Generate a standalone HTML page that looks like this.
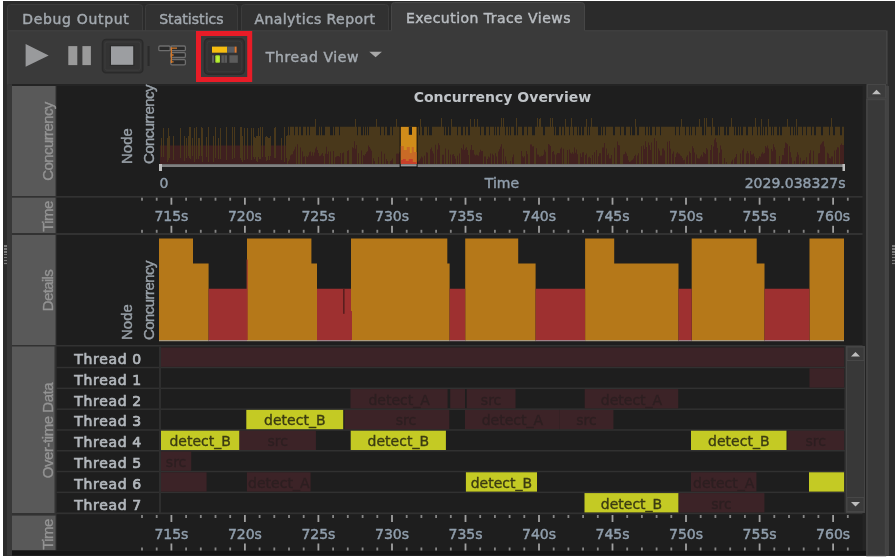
<!DOCTYPE html>
<html><head><meta charset="utf-8"><style>
*{box-sizing:border-box;margin:0;padding:0}
html,body{width:895px;height:558px;overflow:hidden;background:#fff;font-family:'DejaVu Sans', 'Liberation Sans', sans-serif}
.a{position:absolute}
svg{position:absolute;left:0;top:0}
svg{font-family:'DejaVu Sans', 'Liberation Sans', sans-serif;font-size:14px}
.vl{font-family:'Liberation Sans', 'DejaVu Sans', sans-serif;font-size:15px;fill:#939393;stroke:#939393;stroke-width:0.35px}
</style></head><body>
<div class="a" style="left:3px;top:1px;width:892px;height:554.6px;background:#2b2b2b"></div>
<svg width="895" height="558">
  <defs><clipPath id="rowclip"><rect x="161" y="340" width="683.5" height="180"/></clipPath></defs>
  <!-- tabs -->
  <g fill="#313131" stroke="#3c3c3c" stroke-width="1">
    <path d="M7.5 31V7.5Q7.5 4.5 10.5 4.5H139.5Q142.5 4.5 142.5 7.5V31"/>
    <path d="M145.5 31V7.5Q145.5 4.5 148.5 4.5H234.5Q237.5 4.5 237.5 7.5V31"/>
    <path d="M241.5 31V7.5Q241.5 4.5 244.5 4.5H385.5Q388.5 4.5 388.5 7.5V31"/>
  </g>
  <path d="M391.5 31V5.5Q391.5 2.5 394.5 2.5H581.5Q584.5 2.5 584.5 5.5V31" fill="#3a3a3a" stroke="#464646" stroke-width="1"/>
  <g fill="#a2a8ae" stroke="#a2a8ae" stroke-width="0.45">
    <text x="22.2" y="23.6" style="letter-spacing:0.68px">Debug Output</text>
    <text x="159.2" y="23.6" style="letter-spacing:0.05px">Statistics</text>
    <text x="254.6" y="23.6" style="letter-spacing:0.4px">Analytics Report</text>
    <text x="406" y="22.8" fill="#b8bcc0" stroke="#b8bcc0" style="letter-spacing:0.46px">Execution Trace Views</text>
  </g>
  <rect x="7" y="30.5" width="881" height="54" fill="#3a3a3a"/>
  <rect x="392" y="29" width="192" height="3" fill="#3a3a3a"/>
  <path d="M585 30.8H886.5V84M391.5 30.8H7.8V555" stroke="#444" stroke-width="1" fill="none"/>

  <!-- toolbar icons -->
  <polygon points="25.6,44 48.7,55.4 25.6,66.7" fill="#999a9c"/>
  <rect x="68.3" y="46.1" width="9" height="19" fill="#9a9a9a"/>
  <rect x="82.4" y="46.1" width="8.5" height="19" fill="#9a9a9a"/>
  <rect x="102.5" y="39.5" width="40.3" height="33.2" rx="3.5" fill="#333" stroke="#2a2a2a" stroke-width="1.5"/>
  <rect x="105" y="42" width="35.3" height="28.2" rx="2" fill="none" stroke="#3d3d3d" stroke-width="1"/>
  <rect x="110.4" y="45.6" width="23.4" height="19.8" fill="none" stroke="#2c2c2c" stroke-width="1.2"/><rect x="111" y="46.3" width="22.2" height="18.5" fill="#9c9ea1"/>
  <rect x="147.6" y="46" width="2" height="20" fill="#2a2a2a"/>
  <g fill="#2b2b2b" stroke="#6e6e6e" stroke-width="1.3">
    <rect x="158.8" y="46" width="11.4" height="4.6" rx="1.2"/>
    <rect x="170.8" y="46" width="14.6" height="4.6" rx="1.2"/>
    <rect x="170.8" y="52.7" width="14.6" height="4.8" rx="1.2"/>
    <rect x="170.8" y="59.6" width="14.6" height="5.2" rx="1.2"/>
  </g>
  <path d="M171.4 47.3V63M171.4 48.2H177M171.4 55h2.2M171.4 61.8h2.2" stroke="#d2782a" stroke-width="1.3" fill="none"/>
  <rect x="198.5" y="33.5" width="51.2" height="46" fill="none" stroke="#e81c27" stroke-width="5"/>
  <rect x="204.5" y="38.8" width="39.8" height="35.4" rx="4" fill="#323232" stroke="#2a2a2a" stroke-width="1.5"/>
  <rect x="207" y="41.2" width="34.8" height="30.6" rx="3" fill="none" stroke="#3b3b3b" stroke-width="1"/>
  <rect x="212" y="46.6" width="15.2" height="6.1" fill="#f6bd10"/>
  <rect x="227.2" y="46.6" width="7.4" height="6.1" fill="#585c62"/>
  <rect x="234.6" y="46.6" width="2" height="6.1" fill="#e07a30"/>
  <rect x="212" y="55.3" width="2" height="7.5" fill="#5e5e5e"/>
  <rect x="215.3" y="55.3" width="4.7" height="7.5" rx="1" fill="#a6e02a"/>
  <rect x="216.5" y="56.5" width="2.3" height="5" fill="#c0f43a"/>
  <rect x="221.4" y="55.3" width="5.6" height="7.5" fill="#5a5a5a"/>
  <rect x="223.9" y="55.3" width="0.8" height="7.5" fill="#444"/>
  <rect x="229.4" y="55.3" width="8.4" height="7.5" fill="#5c5c5c"/>
  <text x="265.8" y="61.8" fill="#a4aab0" stroke="#a4aab0" stroke-width="0.45" style="letter-spacing:0.61px">Thread View</text>
  <polygon points="369.3,51.8 381.9,51.8 375.6,57.3" fill="#a8a8a8"/>

  <!-- content background -->
  <rect x="7" y="84.5" width="881" height="471.1" fill="#383838"/>
  <rect x="12" y="84.5" width="854" height="466" fill="#323232"/>
  <rect x="12" y="84" width="854" height="2" fill="#242424"/>
  <rect x="3" y="86" width="4" height="469.6" fill="#2b2b2b"/>

  <!-- label cells -->
  <g fill="#595959">
    <rect x="12" y="86" width="43.5" height="110"/>
    <rect x="12" y="197.7" width="43.5" height="35.3"/>
    <rect x="12" y="235" width="43.5" height="110"/>
    <rect x="12" y="346.5" width="42.5" height="166.5"/>
    <rect x="12" y="515.6" width="43.5" height="34.8"/>
  </g>
  <g fill="#1e1e1e">
    <rect x="56.5" y="86" width="808" height="110"/>
    <rect x="56.5" y="197.7" width="808" height="35.3"/>
    <rect x="56.5" y="235" width="808" height="110"/>
    <rect x="56.5" y="346.5" width="788" height="166.5"/>
    <rect x="56.5" y="514.2" width="808.5" height="36.2"/>
    <rect x="12" y="550.4" width="854" height="5.2" fill="#141414"/>
  </g>
  <g class="vl" text-anchor="middle">
    <text transform="translate(52.6,141.5) rotate(-90)" style="letter-spacing:-0.6px">Concurrency</text>
    <text transform="translate(52.6,216.5) rotate(-90)" style="letter-spacing:-0.55px">Time</text>
    <text transform="translate(52.6,290.5) rotate(-90)" style="letter-spacing:-0.65px">Details</text>
    <text transform="translate(52.6,430.5) rotate(-90)" style="letter-spacing:-0.45px">Over-time Data</text>
    <text transform="translate(52.6,534.5) rotate(-90)" style="letter-spacing:-0.55px">Time</text>
  </g>
  <g fill="#98a0a8" stroke="#98a0a8" stroke-width="0.4" style="font-family:'Liberation Sans', 'DejaVu Sans', sans-serif;font-size:15px">
    <text transform="translate(132,164) rotate(-90)">Node</text>
    <text transform="translate(154.3,164) rotate(-90)" style="letter-spacing:-0.55px">Concurrency</text>
    <text transform="translate(132,340) rotate(-90)">Node</text>
    <text transform="translate(154.3,340) rotate(-90)" style="letter-spacing:-0.55px">Concurrency</text>
  </g>
  <text x="502.4" y="101.5" text-anchor="middle" fill="#c0c4c8" style="font-weight:bold">Concurrency Overview</text>
  <path d="M160 145.5h1V164h-1zM161 145.5h1V164h-1zM162 145.5h1V164h-1zM163 145.5h1V164h-1zM164 145.5h1V164h-1zM165 145.5h1V164h-1zM166 145.5h1V164h-1zM167 145.5h1V164h-1zM168 145.5h1V164h-1zM169 145.5h1V164h-1zM170 145.5h1V164h-1zM171 145.5h1V164h-1zM172 145.5h1V164h-1zM173 145.5h1V164h-1zM174 145.5h1V164h-1zM175 145.5h1V164h-1zM176 145.5h1V164h-1zM177 145.5h1V164h-1zM178 145.5h1V164h-1zM179 145.5h1V164h-1zM180 145.5h1V164h-1zM181 145.5h1V164h-1zM182 145.5h1V164h-1zM183 145.5h1V164h-1zM184 145.5h1V164h-1zM185 145.5h1V164h-1zM186 145.5h1V164h-1zM187 145.5h1V164h-1zM188 145.5h1V164h-1zM189 145.5h1V164h-1zM190 145.5h1V164h-1zM191 145.5h1V164h-1zM192 145.5h1V164h-1zM193 145.5h1V164h-1zM194 145.5h1V164h-1zM195 145.5h1V164h-1zM196 145.5h1V164h-1zM197 145.5h1V164h-1zM198 145.5h1V164h-1zM199 145.5h1V164h-1zM200 145.5h1V164h-1zM201 145.5h1V164h-1zM202 145.5h1V164h-1zM203 145.5h1V164h-1zM204 145.5h1V164h-1zM205 145.5h1V164h-1zM206 145.5h1V164h-1zM207 145.5h1V164h-1zM208 145.5h1V164h-1zM209 145.5h1V164h-1zM210 145.5h1V164h-1zM211 145.5h1V164h-1zM212 145.5h1V164h-1zM213 145.5h1V164h-1zM214 145.5h1V164h-1zM215 145.5h1V164h-1zM216 145.5h1V164h-1zM217 145.5h1V164h-1zM218 145.5h1V164h-1zM219 145.5h1V164h-1zM220 145.5h1V164h-1zM221 145.5h1V164h-1zM222 145.5h1V164h-1zM223 145.5h1V164h-1zM224 145.5h1V164h-1zM225 145.5h1V164h-1zM226 145.5h1V164h-1zM227 145.5h1V164h-1zM228 145.5h1V164h-1zM229 145.5h1V164h-1zM230 145.5h1V164h-1zM231 145.5h1V164h-1zM232 145.5h1V164h-1zM233 145.5h1V164h-1zM234 145.5h1V164h-1zM235 145.5h1V164h-1zM236 145.5h1V164h-1zM237 145.5h1V164h-1zM238 145.5h1V164h-1zM239 145.5h1V164h-1zM240 145.5h1V164h-1zM241 145.5h1V164h-1zM242 145.5h1V164h-1zM243 145.5h1V164h-1zM244 145.5h1V164h-1zM245 145.5h1V164h-1zM246 145.5h1V164h-1zM247 145.5h1V164h-1zM248 145.5h1V164h-1zM249 145.5h1V164h-1zM250 145.5h1V164h-1zM251 145.5h1V164h-1zM252 145.5h1V164h-1zM253 145.5h1V164h-1zM254 145.5h1V164h-1zM255 145.5h1V164h-1zM256 145.5h1V164h-1zM257 145.5h1V164h-1zM258 145.5h1V164h-1zM259 145.5h1V164h-1zM260 145.5h1V164h-1zM261 145.5h1V164h-1zM262 145.5h1V164h-1zM263 145.5h1V164h-1zM264 145.5h1V164h-1zM265 145.5h1V164h-1zM266 145.5h1V164h-1zM267 145.5h1V164h-1zM268 145.5h1V164h-1zM269 145.5h1V164h-1zM270 145.5h1V164h-1zM271 145.5h1V164h-1zM272 145.5h1V164h-1zM273 145.5h1V164h-1zM274 145.5h1V164h-1zM275 145.5h1V164h-1zM276 145.5h1V164h-1zM277 145.5h1V164h-1zM278 145.5h1V164h-1zM279 145.5h1V164h-1zM280 145.5h1V164h-1zM281 145.5h1V164h-1zM282 145.5h1V164h-1zM283 145.5h1V164h-1zM284 145.5h1V164h-1zM285 145.5h1V164h-1zM286 145.5h1V164h-1zM288 161.3h1V164h-1zM289 159.4h1V164h-1zM290 155.5h1V164h-1zM291 154.5h1V164h-1zM292 154.3h1V164h-1zM293 151.3h1V164h-1zM294 149.4h1V164h-1zM295 146.8h1V164h-1zM297 144.3h1V164h-1zM300 147.6h1V164h-1zM302 151.5h1V164h-1zM303 156.7h1V164h-1zM304 156.2h1V164h-1zM306 156.3h1V164h-1zM307 156.9h1V164h-1zM308 155.6h1V164h-1zM309 152.3h1V164h-1zM310 151.4h1V164h-1zM311 155.7h1V164h-1zM312 152.2h1V164h-1zM313 155.7h1V164h-1zM314 152.4h1V164h-1zM315 148.4h1V164h-1zM316 146.8h1V164h-1zM317 150.0h1V164h-1zM318 153.1h1V164h-1zM319 156.2h1V164h-1zM320 155.7h1V164h-1zM321 154.6h1V164h-1zM322 153.1h1V164h-1zM323 155.9h1V164h-1zM325 153.8h1V164h-1zM326 146.8h1V164h-1zM327 154.0h1V164h-1zM328 151.4h1V164h-1zM330 151.4h1V164h-1zM333 150.9h1V164h-1zM335 157.3h1V164h-1zM336 156.4h1V164h-1zM337 156.0h1V164h-1zM338 155.9h1V164h-1zM339 156.7h1V164h-1zM340 152.9h1V164h-1zM342 153.2h1V164h-1zM343 152.6h1V164h-1zM347 150.9h1V164h-1zM348 150.3h1V164h-1zM352 147.2h1V164h-1zM353 148.2h1V164h-1zM354 141.2h1V164h-1zM355 148.8h1V164h-1zM356 145.0h1V164h-1zM358 153.2h1V164h-1zM361 150.6h1V164h-1zM363 155.1h1V164h-1zM364 155.7h1V164h-1zM365 153.9h1V164h-1zM366 152.3h1V164h-1zM367 151.3h1V164h-1zM368 145.6h1V164h-1zM369 147.1h1V164h-1zM370 148.7h1V164h-1zM371 150.8h1V164h-1zM373 158.2h1V164h-1zM374 161.1h1V164h-1zM378 157.1h1V164h-1zM381 151.5h1V164h-1zM384 153.7h1V164h-1zM386 159.1h1V164h-1zM387 161.1h1V164h-1zM390 160.9h1V164h-1zM391 160.2h1V164h-1zM392 158.4h1V164h-1zM396 153.8h1V164h-1zM397 153.4h1V164h-1zM398 153.8h1V164h-1zM399 152.3h1V164h-1zM400 149.6h1V164h-1zM417 161.4h1V164h-1zM418 161.5h1V164h-1zM419 160.5h1V164h-1zM420 158.5h1V164h-1zM421 156.4h1V164h-1zM422 157.6h1V164h-1zM424 155.7h1V164h-1zM426 152.3h1V164h-1zM427 152.8h1V164h-1zM430 149.3h1V164h-1zM431 147.4h1V164h-1zM432 151.2h1V164h-1zM433 153.6h1V164h-1zM435 144.8h1V164h-1zM437 149.5h1V164h-1zM438 143.3h1V164h-1zM439 145.3h1V164h-1zM442 154.8h1V164h-1zM443 154.7h1V164h-1zM445 148.4h1V164h-1zM448 149.7h1V164h-1zM450 154.6h1V164h-1zM452 154.8h1V164h-1zM453 154.1h1V164h-1zM454 155.9h1V164h-1zM455 158.8h1V164h-1zM457 155.7h1V164h-1zM459 153.5h1V164h-1zM461 147.9h1V164h-1zM462 149.5h1V164h-1zM463 144.4h1V164h-1zM464 149.9h1V164h-1zM465 148.6h1V164h-1zM466 147.2h1V164h-1zM467 150.0h1V164h-1zM468 155.1h1V164h-1zM470 149.8h1V164h-1zM471 144.9h1V164h-1zM472 150.3h1V164h-1zM473 149.9h1V164h-1zM474 154.4h1V164h-1zM475 155.5h1V164h-1zM476 154.7h1V164h-1zM477 155.2h1V164h-1zM478 155.7h1V164h-1zM479 152.3h1V164h-1zM480 149.8h1V164h-1zM481 151.3h1V164h-1zM482 150.9h1V164h-1zM484 156.5h1V164h-1zM485 156.4h1V164h-1zM487 158.9h1V164h-1zM488 156.6h1V164h-1zM489 157.4h1V164h-1zM490 153.4h1V164h-1zM492 153.7h1V164h-1zM493 155.2h1V164h-1zM495 153.3h1V164h-1zM496 156.6h1V164h-1zM498 151.5h1V164h-1zM499 149.2h1V164h-1zM500 146.7h1V164h-1zM501 144.2h1V164h-1zM503 148.8h1V164h-1zM505 156.5h1V164h-1zM506 160.7h1V164h-1zM510 161.0h1V164h-1zM512 157.3h1V164h-1zM513 154.6h1V164h-1zM521 151.0h1V164h-1zM522 156.3h1V164h-1zM523 157.4h1V164h-1zM524 156.3h1V164h-1zM526 150.9h1V164h-1zM527 154.2h1V164h-1zM530 144.4h1V164h-1zM531 144.5h1V164h-1zM532 146.4h1V164h-1zM533 146.2h1V164h-1zM536 148.2h1V164h-1zM537 154.6h1V164h-1zM538 154.7h1V164h-1zM539 156.7h1V164h-1zM540 156.5h1V164h-1zM541 155.8h1V164h-1zM542 156.1h1V164h-1zM543 154.7h1V164h-1zM544 149.8h1V164h-1zM545 151.7h1V164h-1zM548 143.9h1V164h-1zM549 144.8h1V164h-1zM550 146.0h1V164h-1zM552 152.1h1V164h-1zM553 151.1h1V164h-1zM554 154.6h1V164h-1zM556 154.4h1V164h-1zM557 152.9h1V164h-1zM558 153.1h1V164h-1zM559 153.3h1V164h-1zM560 148.7h1V164h-1zM561 147.5h1V164h-1zM563 148.7h1V164h-1zM567 149.9h1V164h-1zM569 149.5h1V164h-1zM570 152.7h1V164h-1zM571 153.7h1V164h-1zM572 152.2h1V164h-1zM573 153.8h1V164h-1zM574 147.5h1V164h-1zM575 152.7h1V164h-1zM576 149.5h1V164h-1zM577 154.3h1V164h-1zM580 153.4h1V164h-1zM581 156.9h1V164h-1zM582 152.6h1V164h-1zM583 152.3h1V164h-1zM585 155.0h1V164h-1zM586 153.4h1V164h-1zM588 157.5h1V164h-1zM589 156.7h1V164h-1zM590 157.9h1V164h-1zM592 154.9h1V164h-1zM594 152.3h1V164h-1zM596 149.9h1V164h-1zM598 156.3h1V164h-1zM599 153.2h1V164h-1zM600 153.2h1V164h-1zM602 147.4h1V164h-1zM603 147.4h1V164h-1zM604 142.9h1V164h-1zM606 148.6h1V164h-1zM607 154.9h1V164h-1zM608 153.5h1V164h-1zM609 158.6h1V164h-1zM610 158.5h1V164h-1zM611 155.1h1V164h-1zM614 147.8h1V164h-1zM617 141.5h1V164h-1zM618 145.1h1V164h-1zM619 145.5h1V164h-1zM623 154.5h1V164h-1zM624 154.0h1V164h-1zM625 151.8h1V164h-1zM626 153.6h1V164h-1zM627 156.1h1V164h-1zM628 160.2h1V164h-1zM629 161.9h1V164h-1zM630 161.4h1V164h-1zM631 160.4h1V164h-1zM632 159.7h1V164h-1zM633 158.5h1V164h-1zM634 156.1h1V164h-1zM635 154.8h1V164h-1zM637 155.6h1V164h-1zM638 153.3h1V164h-1zM641 146.3h1V164h-1zM643 145.4h1V164h-1zM644 148.9h1V164h-1zM645 141.3h1V164h-1zM646 146.9h1V164h-1zM648 142.6h1V164h-1zM649 145.2h1V164h-1zM650 150.0h1V164h-1zM651 142.4h1V164h-1zM654 138.0h1V164h-1zM656 140.9h1V164h-1zM658 148.4h1V164h-1zM659 150.8h1V164h-1zM660 155.4h1V164h-1zM661 155.5h1V164h-1zM662 148.4h1V164h-1zM663 148.5h1V164h-1zM664 150.6h1V164h-1zM667 141.7h1V164h-1zM669 141.0h1V164h-1zM670 148.7h1V164h-1zM672 153.7h1V164h-1zM673 151.6h1V164h-1zM675 157.0h1V164h-1zM676 153.6h1V164h-1zM677 152.3h1V164h-1zM678 153.5h1V164h-1zM679 153.8h1V164h-1zM680 155.4h1V164h-1zM681 156.3h1V164h-1zM682 158.0h1V164h-1zM683 160.2h1V164h-1zM684 159.8h1V164h-1zM686 156.8h1V164h-1zM687 155.3h1V164h-1zM689 151.5h1V164h-1zM690 153.0h1V164h-1zM692 146.3h1V164h-1zM693 148.2h1V164h-1zM694 152.6h1V164h-1zM696 154.5h1V164h-1zM697 158.2h1V164h-1zM698 158.4h1V164h-1zM699 158.6h1V164h-1zM700 156.5h1V164h-1zM701 154.7h1V164h-1zM702 156.7h1V164h-1zM703 152.0h1V164h-1zM704 152.9h1V164h-1zM705 154.1h1V164h-1zM706 148.1h1V164h-1zM707 149.5h1V164h-1zM710 149.9h1V164h-1zM711 144.9h1V164h-1zM713 146.5h1V164h-1zM714 139.8h1V164h-1zM715 137.9h1V164h-1zM716 142.3h1V164h-1zM717 147.9h1V164h-1zM719 152.8h1V164h-1zM720 145.5h1V164h-1zM721 149.4h1V164h-1zM724 157.9h1V164h-1zM726 161.9h1V164h-1zM731 161.5h1V164h-1zM732 159.7h1V164h-1zM734 158.6h1V164h-1zM735 157.1h1V164h-1zM736 154.0h1V164h-1zM740 153.5h1V164h-1zM742 150.5h1V164h-1zM743 148.6h1V164h-1zM746 153.6h1V164h-1zM747 151.1h1V164h-1zM748 153.3h1V164h-1zM750 151.1h1V164h-1zM751 154.6h1V164h-1zM752 154.4h1V164h-1zM753 153.6h1V164h-1zM754 156.6h1V164h-1zM756 158.1h1V164h-1zM757 159.9h1V164h-1zM758 158.3h1V164h-1zM759 156.3h1V164h-1zM760 156.8h1V164h-1zM761 153.7h1V164h-1zM762 152.2h1V164h-1zM763 153.7h1V164h-1zM764 152.9h1V164h-1zM765 145.9h1V164h-1zM766 147.6h1V164h-1zM767 145.6h1V164h-1zM768 148.6h1V164h-1zM771 149.0h1V164h-1zM772 151.2h1V164h-1zM773 144.3h1V164h-1zM774 147.2h1V164h-1zM775 149.8h1V164h-1zM779 156.0h1V164h-1zM781 160.4h1V164h-1zM782 155.1h1V164h-1zM783 155.3h1V164h-1zM784 147.9h1V164h-1zM785 142.5h1V164h-1zM786 143.3h1V164h-1zM787 144.2h1V164h-1zM789 146.2h1V164h-1zM790 152.3h1V164h-1zM791 157.6h1V164h-1zM794 161.1h1V164h-1zM796 156.7h1V164h-1zM797 152.2h1V164h-1zM798 154.7h1V164h-1zM800 157.7h1V164h-1zM802 161.3h1V164h-1zM803 160.4h1V164h-1zM804 160.0h1V164h-1zM806 157.3h1V164h-1zM809 153.2h1V164h-1zM810 150.3h1V164h-1zM813 150.7h1V164h-1zM818 153.4h1V164h-1zM819 153.1h1V164h-1zM820 144.8h1V164h-1zM821 143.6h1V164h-1zM822 141.7h1V164h-1zM823 141.2h1V164h-1zM824 146.5h1V164h-1zM827 152.8h1V164h-1zM828 153.8h1V164h-1zM829 158.1h1V164h-1zM830 158.5h1V164h-1zM831 156.5h1V164h-1zM832 156.5h1V164h-1zM834 150.5h1V164h-1zM836 149.8h1V164h-1zM837 147.3h1V164h-1zM838 147.5h1V164h-1zM840 145h1V164h-1zM841 143.5h1V164h-1zM841 145h1V164h-1zM842 147.1h1V164h-1zM842 145h1V164h-1zM843 145h1V164h-1z" fill="#3f2020"/>
  <path d="M161 138h1V157h-1zM163 128h1V157h-1zM167 138h1V162h-1zM168 128h1V160h-1zM169 136h1V158h-1zM173 136h1V160h-1zM180 128h1V158h-1zM184 136h1V161h-1zM186 138h1V158h-1zM188 136h1V156h-1zM189 127h1V158h-1zM190 127h1V159h-1zM192 138h1V156h-1zM194 128h1V162h-1zM196 127h1V159h-1zM198 138h1V159h-1zM199 138h1V156h-1zM201 127h1V156h-1zM202 128h1V162h-1zM206 137h1V157h-1zM208 127h1V162h-1zM213 136h1V162h-1zM215 127h1V158h-1zM218 138h1V159h-1zM220 128h1V159h-1zM226 127h1V160h-1zM232 127h1V159h-1zM234 127h1V158h-1zM240 127h1V158h-1zM241 127h1V160h-1zM242 136h1V162h-1zM244 128h1V160h-1zM247 128h1V159h-1zM251 128h1V160h-1zM253 128h1V157h-1zM254 137h1V159h-1zM255 138h1V157h-1zM256 136h1V161h-1zM257 136h1V162h-1zM258 128h1V157h-1zM259 136h1V159h-1zM260 127h1V159h-1zM262 127h1V157h-1zM265 137h1V157h-1zM266 136h1V161h-1zM267 137h1V160h-1zM268 138h1V156h-1zM269 138h1V160h-1zM270 136h1V156h-1zM274 128h1V158h-1zM275 127h1V158h-1zM281 138h1V160h-1zM284 127h1V162h-1zM286 136h1V158h-1zM287 135.3h1V164h-1zM288 135.3h1V164h-1zM288 126.8h1V135.3h-1zM289 135.3h1V164h-1zM290 135.3h1V164h-1zM290 126.8h1V135.3h-1zM291 135.3h1V164h-1zM291 126.8h1V135.3h-1zM292 135.3h1V164h-1zM292 126.8h1V135.3h-1zM293 135.3h1V164h-1zM293 126.8h1V135.3h-1zM294 135.3h1V164h-1zM295 135.3h1V164h-1zM295 126.8h1V135.3h-1zM296 135.3h1V164h-1zM296 126.8h1V135.3h-1zM297 135.3h1V164h-1zM297 126.8h1V135.3h-1zM298 135.3h1V164h-1zM299 135.3h1V164h-1zM299 126.8h1V135.3h-1zM300 135.3h1V164h-1zM300 126.8h1V135.3h-1zM301 135.3h1V164h-1zM302 135.3h1V164h-1zM303 135.3h1V164h-1zM303 126.8h1V135.3h-1zM304 135.3h1V164h-1zM304 126.8h1V135.3h-1zM305 135.3h1V164h-1zM305 126.8h1V135.3h-1zM306 135.3h1V164h-1zM307 135.3h1V164h-1zM307 126.8h1V135.3h-1zM308 135.3h1V164h-1zM308 126.8h1V135.3h-1zM309 135.3h1V164h-1zM310 135.3h1V164h-1zM310 126.8h1V135.3h-1zM311 135.3h1V164h-1zM311 126.8h1V135.3h-1zM312 135.3h1V164h-1zM312 126.8h1V135.3h-1zM313 135.3h1V164h-1zM313 126.8h1V135.3h-1zM314 135.3h1V164h-1zM314 126.8h1V135.3h-1zM315 135.3h1V164h-1zM315 119h1V135.3h-1zM316 135.3h1V164h-1zM317 135.3h1V164h-1zM318 135.3h1V164h-1zM319 135.3h1V164h-1zM319 126.8h1V135.3h-1zM320 135.3h1V164h-1zM321 135.3h1V164h-1zM321 126.8h1V135.3h-1zM322 135.3h1V164h-1zM323 135.3h1V164h-1zM324 135.3h1V164h-1zM325 135.3h1V164h-1zM325 126.8h1V135.3h-1zM326 135.3h1V164h-1zM326 126.8h1V135.3h-1zM327 135.3h1V164h-1zM327 126.8h1V135.3h-1zM328 135.3h1V164h-1zM328 126.8h1V135.3h-1zM329 135.3h1V164h-1zM329 126.8h1V135.3h-1zM330 135.3h1V164h-1zM331 135.3h1V164h-1zM332 135.3h1V164h-1zM333 135.3h1V164h-1zM333 126.8h1V135.3h-1zM334 135.3h1V164h-1zM335 135.3h1V164h-1zM335 126.8h1V135.3h-1zM336 135.3h1V164h-1zM336 126.8h1V135.3h-1zM337 135.3h1V164h-1zM337 126.8h1V135.3h-1zM338 135.3h1V164h-1zM338 126.8h1V135.3h-1zM339 135.3h1V164h-1zM340 135.3h1V164h-1zM340 126.8h1V135.3h-1zM341 135.3h1V164h-1zM341 126.8h1V135.3h-1zM342 135.3h1V164h-1zM342 126.8h1V135.3h-1zM343 135.3h1V164h-1zM343 126.8h1V135.3h-1zM344 135.3h1V164h-1zM344 126.8h1V135.3h-1zM345 135.3h1V164h-1zM345 126.8h1V135.3h-1zM346 135.3h1V164h-1zM346 126.8h1V135.3h-1zM347 135.3h1V164h-1zM347 126.8h1V135.3h-1zM348 135.3h1V164h-1zM348 126.8h1V135.3h-1zM349 135.3h1V164h-1zM349 126.8h1V135.3h-1zM350 135.3h1V164h-1zM350 126.8h1V135.3h-1zM351 135.3h1V164h-1zM351 126.8h1V135.3h-1zM352 135.3h1V164h-1zM352 126.8h1V135.3h-1zM353 135.3h1V164h-1zM353 126.8h1V135.3h-1zM354 135.3h1V164h-1zM354 126.8h1V135.3h-1zM355 135.3h1V164h-1zM355 119h1V135.3h-1zM356 135.3h1V164h-1zM356 126.8h1V135.3h-1zM357 135.3h1V164h-1zM358 135.3h1V164h-1zM358 126.8h1V135.3h-1zM359 135.3h1V164h-1zM359 126.8h1V135.3h-1zM360 135.3h1V164h-1zM360 126.8h1V135.3h-1zM361 135.3h1V164h-1zM362 135.3h1V164h-1zM363 135.3h1V164h-1zM363 126.8h1V135.3h-1zM364 135.3h1V164h-1zM365 135.3h1V164h-1zM365 126.8h1V135.3h-1zM366 135.3h1V164h-1zM367 135.3h1V164h-1zM367 126.8h1V135.3h-1zM368 135.3h1V164h-1zM369 135.3h1V164h-1zM369 126.8h1V135.3h-1zM370 135.3h1V164h-1zM370 126.8h1V135.3h-1zM371 135.3h1V164h-1zM371 126.8h1V135.3h-1zM372 135.3h1V164h-1zM372 126.8h1V135.3h-1zM373 135.3h1V164h-1zM373 126.8h1V135.3h-1zM374 135.3h1V164h-1zM374 126.8h1V135.3h-1zM375 135.3h1V164h-1zM375 126.8h1V135.3h-1zM376 135.3h1V164h-1zM376 119h1V135.3h-1zM377 135.3h1V164h-1zM377 126.8h1V135.3h-1zM378 135.3h1V164h-1zM378 126.8h1V135.3h-1zM379 135.3h1V164h-1zM379 126.8h1V135.3h-1zM380 135.3h1V164h-1zM381 135.3h1V164h-1zM381 126.8h1V135.3h-1zM382 135.3h1V164h-1zM382 126.8h1V135.3h-1zM383 135.3h1V164h-1zM383 126.8h1V135.3h-1zM384 135.3h1V164h-1zM385 135.3h1V164h-1zM385 126.8h1V135.3h-1zM386 135.3h1V164h-1zM386 126.8h1V135.3h-1zM387 135.3h1V164h-1zM388 135.3h1V164h-1zM389 135.3h1V164h-1zM390 135.3h1V164h-1zM390 126.8h1V135.3h-1zM391 135.3h1V164h-1zM391 126.8h1V135.3h-1zM392 135.3h1V164h-1zM393 135.3h1V164h-1zM393 126.8h1V135.3h-1zM394 135.3h1V164h-1zM394 126.8h1V135.3h-1zM395 135.3h1V164h-1zM395 126.8h1V135.3h-1zM396 135.3h1V164h-1zM396 119h1V135.3h-1zM397 135.3h1V164h-1zM397 126.8h1V135.3h-1zM398 135.3h1V164h-1zM398 126.8h1V135.3h-1zM399 135.3h1V164h-1zM399 126.8h1V135.3h-1zM400 135.3h1V164h-1zM400 126.8h1V135.3h-1zM417 135.3h1V164h-1zM417 126.8h1V135.3h-1zM418 135.3h1V164h-1zM418 126.8h1V135.3h-1zM419 135.3h1V164h-1zM420 135.3h1V164h-1zM420 119h1V135.3h-1zM421 135.3h1V164h-1zM421 126.8h1V135.3h-1zM422 135.3h1V164h-1zM423 135.3h1V164h-1zM424 135.3h1V164h-1zM424 126.8h1V135.3h-1zM425 135.3h1V164h-1zM425 126.8h1V135.3h-1zM426 135.3h1V164h-1zM426 126.8h1V135.3h-1zM427 135.3h1V164h-1zM428 135.3h1V164h-1zM428 126.8h1V135.3h-1zM429 135.3h1V164h-1zM430 135.3h1V164h-1zM431 135.3h1V164h-1zM432 135.3h1V164h-1zM432 126.8h1V135.3h-1zM433 135.3h1V164h-1zM433 126.8h1V135.3h-1zM434 135.3h1V164h-1zM434 126.8h1V135.3h-1zM435 135.3h1V164h-1zM435 126.8h1V135.3h-1zM436 135.3h1V164h-1zM436 126.8h1V135.3h-1zM437 135.3h1V164h-1zM437 126.8h1V135.3h-1zM438 135.3h1V164h-1zM438 126.8h1V135.3h-1zM439 135.3h1V164h-1zM439 126.8h1V135.3h-1zM440 135.3h1V164h-1zM440 126.8h1V135.3h-1zM441 135.3h1V164h-1zM441 118h1V135.3h-1zM442 135.3h1V164h-1zM442 126.8h1V135.3h-1zM443 135.3h1V164h-1zM443 126.8h1V135.3h-1zM444 135.3h1V164h-1zM445 135.3h1V164h-1zM445 126.8h1V135.3h-1zM446 135.3h1V164h-1zM447 135.3h1V164h-1zM448 135.3h1V164h-1zM448 126.8h1V135.3h-1zM449 135.3h1V164h-1zM450 135.3h1V164h-1zM451 135.3h1V164h-1zM451 119h1V135.3h-1zM452 135.3h1V164h-1zM452 126.8h1V135.3h-1zM453 135.3h1V164h-1zM453 126.8h1V135.3h-1zM454 135.3h1V164h-1zM454 126.8h1V135.3h-1zM455 135.3h1V164h-1zM455 126.8h1V135.3h-1zM456 135.3h1V164h-1zM456 126.8h1V135.3h-1zM457 135.3h1V164h-1zM458 135.3h1V164h-1zM458 126.8h1V135.3h-1zM459 135.3h1V164h-1zM459 126.8h1V135.3h-1zM460 135.3h1V164h-1zM460 126.8h1V135.3h-1zM461 135.3h1V164h-1zM462 135.3h1V164h-1zM463 135.3h1V164h-1zM463 126.8h1V135.3h-1zM464 135.3h1V164h-1zM464 126.8h1V135.3h-1zM465 135.3h1V164h-1zM466 135.3h1V164h-1zM466 126.8h1V135.3h-1zM467 135.3h1V164h-1zM467 126.8h1V135.3h-1zM468 135.3h1V164h-1zM469 135.3h1V164h-1zM470 135.3h1V164h-1zM470 119h1V135.3h-1zM471 135.3h1V164h-1zM471 126.8h1V135.3h-1zM472 135.3h1V164h-1zM472 126.8h1V135.3h-1zM473 135.3h1V164h-1zM473 126.8h1V135.3h-1zM474 135.3h1V164h-1zM474 119h1V135.3h-1zM475 135.3h1V164h-1zM475 126.8h1V135.3h-1zM476 135.3h1V164h-1zM476 126.8h1V135.3h-1zM477 135.3h1V164h-1zM477 119h1V135.3h-1zM478 135.3h1V164h-1zM478 126.8h1V135.3h-1zM479 135.3h1V164h-1zM479 126.8h1V135.3h-1zM480 135.3h1V164h-1zM481 135.3h1V164h-1zM481 126.8h1V135.3h-1zM482 135.3h1V164h-1zM482 126.8h1V135.3h-1zM483 135.3h1V164h-1zM483 126.8h1V135.3h-1zM484 135.3h1V164h-1zM485 135.3h1V164h-1zM486 135.3h1V164h-1zM486 126.8h1V135.3h-1zM487 135.3h1V164h-1zM487 126.8h1V135.3h-1zM488 135.3h1V164h-1zM488 126.8h1V135.3h-1zM489 135.3h1V164h-1zM490 135.3h1V164h-1zM490 126.8h1V135.3h-1zM491 135.3h1V164h-1zM491 126.8h1V135.3h-1zM492 135.3h1V164h-1zM492 126.8h1V135.3h-1zM493 135.3h1V164h-1zM493 126.8h1V135.3h-1zM494 135.3h1V164h-1zM495 135.3h1V164h-1zM495 126.8h1V135.3h-1zM496 135.3h1V164h-1zM497 135.3h1V164h-1zM497 126.8h1V135.3h-1zM498 135.3h1V164h-1zM498 126.8h1V135.3h-1zM499 135.3h1V164h-1zM500 135.3h1V164h-1zM500 126.8h1V135.3h-1zM501 135.3h1V164h-1zM501 118h1V135.3h-1zM502 135.3h1V164h-1zM502 126.8h1V135.3h-1zM503 135.3h1V164h-1zM503 118h1V135.3h-1zM504 135.3h1V164h-1zM504 126.8h1V135.3h-1zM505 135.3h1V164h-1zM506 135.3h1V164h-1zM506 126.8h1V135.3h-1zM507 135.3h1V164h-1zM507 126.8h1V135.3h-1zM508 135.3h1V164h-1zM509 135.3h1V164h-1zM509 126.8h1V135.3h-1zM510 135.3h1V164h-1zM511 135.3h1V164h-1zM511 126.8h1V135.3h-1zM512 135.3h1V164h-1zM512 126.8h1V135.3h-1zM513 135.3h1V164h-1zM513 126.8h1V135.3h-1zM514 135.3h1V164h-1zM515 135.3h1V164h-1zM516 135.3h1V164h-1zM516 118h1V135.3h-1zM517 135.3h1V164h-1zM518 135.3h1V164h-1zM518 126.8h1V135.3h-1zM519 135.3h1V164h-1zM519 126.8h1V135.3h-1zM520 135.3h1V164h-1zM520 126.8h1V135.3h-1zM521 135.3h1V164h-1zM521 126.8h1V135.3h-1zM522 135.3h1V164h-1zM523 135.3h1V164h-1zM524 135.3h1V164h-1zM524 126.8h1V135.3h-1zM525 135.3h1V164h-1zM525 126.8h1V135.3h-1zM526 135.3h1V164h-1zM526 126.8h1V135.3h-1zM527 135.3h1V164h-1zM528 135.3h1V164h-1zM528 126.8h1V135.3h-1zM529 135.3h1V164h-1zM529 126.8h1V135.3h-1zM530 135.3h1V164h-1zM530 126.8h1V135.3h-1zM531 135.3h1V164h-1zM531 126.8h1V135.3h-1zM532 135.3h1V164h-1zM533 135.3h1V164h-1zM534 135.3h1V164h-1zM535 135.3h1V164h-1zM535 126.8h1V135.3h-1zM536 135.3h1V164h-1zM536 126.8h1V135.3h-1zM537 135.3h1V164h-1zM537 118h1V135.3h-1zM538 135.3h1V164h-1zM538 126.8h1V135.3h-1zM539 135.3h1V164h-1zM539 119h1V135.3h-1zM540 135.3h1V164h-1zM540 118h1V135.3h-1zM541 135.3h1V164h-1zM541 126.8h1V135.3h-1zM542 135.3h1V164h-1zM542 126.8h1V135.3h-1zM543 135.3h1V164h-1zM544 135.3h1V164h-1zM545 135.3h1V164h-1zM545 126.8h1V135.3h-1zM546 135.3h1V164h-1zM546 126.8h1V135.3h-1zM547 135.3h1V164h-1zM547 126.8h1V135.3h-1zM548 135.3h1V164h-1zM548 126.8h1V135.3h-1zM549 135.3h1V164h-1zM549 126.8h1V135.3h-1zM550 135.3h1V164h-1zM550 118h1V135.3h-1zM551 135.3h1V164h-1zM551 126.8h1V135.3h-1zM552 135.3h1V164h-1zM552 118h1V135.3h-1zM553 135.3h1V164h-1zM553 126.8h1V135.3h-1zM554 135.3h1V164h-1zM555 135.3h1V164h-1zM555 126.8h1V135.3h-1zM556 135.3h1V164h-1zM557 135.3h1V164h-1zM558 135.3h1V164h-1zM559 135.3h1V164h-1zM559 126.8h1V135.3h-1zM560 135.3h1V164h-1zM560 126.8h1V135.3h-1zM561 135.3h1V164h-1zM562 135.3h1V164h-1zM562 126.8h1V135.3h-1zM563 135.3h1V164h-1zM563 126.8h1V135.3h-1zM564 135.3h1V164h-1zM565 135.3h1V164h-1zM565 119h1V135.3h-1zM566 135.3h1V164h-1zM566 126.8h1V135.3h-1zM567 135.3h1V164h-1zM567 126.8h1V135.3h-1zM568 135.3h1V164h-1zM568 126.8h1V135.3h-1zM569 135.3h1V164h-1zM570 135.3h1V164h-1zM570 126.8h1V135.3h-1zM571 135.3h1V164h-1zM571 118h1V135.3h-1zM572 135.3h1V164h-1zM572 126.8h1V135.3h-1zM573 135.3h1V164h-1zM574 135.3h1V164h-1zM574 126.8h1V135.3h-1zM575 135.3h1V164h-1zM575 126.8h1V135.3h-1zM576 135.3h1V164h-1zM576 126.8h1V135.3h-1zM577 135.3h1V164h-1zM578 135.3h1V164h-1zM578 126.8h1V135.3h-1zM579 135.3h1V164h-1zM580 135.3h1V164h-1zM581 135.3h1V164h-1zM581 126.8h1V135.3h-1zM582 135.3h1V164h-1zM583 135.3h1V164h-1zM584 135.3h1V164h-1zM584 126.8h1V135.3h-1zM585 135.3h1V164h-1zM585 126.8h1V135.3h-1zM586 135.3h1V164h-1zM586 119h1V135.3h-1zM587 135.3h1V164h-1zM588 135.3h1V164h-1zM588 126.8h1V135.3h-1zM589 135.3h1V164h-1zM590 135.3h1V164h-1zM590 126.8h1V135.3h-1zM591 135.3h1V164h-1zM591 118h1V135.3h-1zM592 135.3h1V164h-1zM592 126.8h1V135.3h-1zM593 135.3h1V164h-1zM593 126.8h1V135.3h-1zM594 135.3h1V164h-1zM594 126.8h1V135.3h-1zM595 135.3h1V164h-1zM595 126.8h1V135.3h-1zM596 135.3h1V164h-1zM596 126.8h1V135.3h-1zM597 135.3h1V164h-1zM597 126.8h1V135.3h-1zM598 135.3h1V164h-1zM599 135.3h1V164h-1zM600 135.3h1V164h-1zM601 135.3h1V164h-1zM601 126.8h1V135.3h-1zM602 135.3h1V164h-1zM603 135.3h1V164h-1zM603 126.8h1V135.3h-1zM604 135.3h1V164h-1zM604 126.8h1V135.3h-1zM605 135.3h1V164h-1zM606 135.3h1V164h-1zM606 126.8h1V135.3h-1zM607 135.3h1V164h-1zM607 126.8h1V135.3h-1zM608 135.3h1V164h-1zM608 126.8h1V135.3h-1zM609 135.3h1V164h-1zM609 126.8h1V135.3h-1zM610 135.3h1V164h-1zM610 126.8h1V135.3h-1zM611 135.3h1V164h-1zM611 126.8h1V135.3h-1zM612 135.3h1V164h-1zM612 126.8h1V135.3h-1zM613 135.3h1V164h-1zM614 135.3h1V164h-1zM615 135.3h1V164h-1zM615 126.8h1V135.3h-1zM616 135.3h1V164h-1zM616 126.8h1V135.3h-1zM617 135.3h1V164h-1zM617 126.8h1V135.3h-1zM618 135.3h1V164h-1zM618 126.8h1V135.3h-1zM619 135.3h1V164h-1zM619 126.8h1V135.3h-1zM620 135.3h1V164h-1zM621 135.3h1V164h-1zM621 126.8h1V135.3h-1zM622 135.3h1V164h-1zM622 126.8h1V135.3h-1zM623 135.3h1V164h-1zM623 126.8h1V135.3h-1zM624 135.3h1V164h-1zM625 135.3h1V164h-1zM626 135.3h1V164h-1zM626 126.8h1V135.3h-1zM627 135.3h1V164h-1zM627 126.8h1V135.3h-1zM628 135.3h1V164h-1zM628 126.8h1V135.3h-1zM629 135.3h1V164h-1zM629 126.8h1V135.3h-1zM630 135.3h1V164h-1zM631 135.3h1V164h-1zM631 126.8h1V135.3h-1zM632 135.3h1V164h-1zM633 135.3h1V164h-1zM634 135.3h1V164h-1zM635 135.3h1V164h-1zM635 119h1V135.3h-1zM636 135.3h1V164h-1zM636 126.8h1V135.3h-1zM637 135.3h1V164h-1zM638 135.3h1V164h-1zM639 135.3h1V164h-1zM639 126.8h1V135.3h-1zM640 135.3h1V164h-1zM640 126.8h1V135.3h-1zM641 135.3h1V164h-1zM641 126.8h1V135.3h-1zM642 135.3h1V164h-1zM642 126.8h1V135.3h-1zM643 135.3h1V164h-1zM643 126.8h1V135.3h-1zM644 135.3h1V164h-1zM644 126.8h1V135.3h-1zM645 135.3h1V164h-1zM646 135.3h1V164h-1zM646 126.8h1V135.3h-1zM647 135.3h1V164h-1zM647 126.8h1V135.3h-1zM648 135.3h1V164h-1zM649 135.3h1V164h-1zM649 126.8h1V135.3h-1zM650 135.3h1V164h-1zM651 135.3h1V164h-1zM652 135.3h1V164h-1zM652 126.8h1V135.3h-1zM653 135.3h1V164h-1zM653 126.8h1V135.3h-1zM654 135.3h1V164h-1zM654 126.8h1V135.3h-1zM655 135.3h1V164h-1zM656 135.3h1V164h-1zM656 126.8h1V135.3h-1zM657 135.3h1V164h-1zM657 126.8h1V135.3h-1zM658 135.3h1V164h-1zM658 126.8h1V135.3h-1zM659 135.3h1V164h-1zM659 126.8h1V135.3h-1zM660 135.3h1V164h-1zM661 135.3h1V164h-1zM661 126.8h1V135.3h-1zM662 135.3h1V164h-1zM662 126.8h1V135.3h-1zM663 135.3h1V164h-1zM663 126.8h1V135.3h-1zM664 135.3h1V164h-1zM664 126.8h1V135.3h-1zM665 135.3h1V164h-1zM665 126.8h1V135.3h-1zM666 135.3h1V164h-1zM666 126.8h1V135.3h-1zM667 135.3h1V164h-1zM667 126.8h1V135.3h-1zM668 135.3h1V164h-1zM668 126.8h1V135.3h-1zM669 135.3h1V164h-1zM669 126.8h1V135.3h-1zM670 135.3h1V164h-1zM670 126.8h1V135.3h-1zM671 135.3h1V164h-1zM671 126.8h1V135.3h-1zM672 135.3h1V164h-1zM672 126.8h1V135.3h-1zM673 135.3h1V164h-1zM673 126.8h1V135.3h-1zM674 135.3h1V164h-1zM674 126.8h1V135.3h-1zM675 135.3h1V164h-1zM676 135.3h1V164h-1zM676 126.8h1V135.3h-1zM677 135.3h1V164h-1zM677 126.8h1V135.3h-1zM678 135.3h1V164h-1zM678 126.8h1V135.3h-1zM679 135.3h1V164h-1zM680 135.3h1V164h-1zM680 126.8h1V135.3h-1zM681 135.3h1V164h-1zM681 119h1V135.3h-1zM682 135.3h1V164h-1zM682 126.8h1V135.3h-1zM683 135.3h1V164h-1zM683 126.8h1V135.3h-1zM684 135.3h1V164h-1zM684 126.8h1V135.3h-1zM685 135.3h1V164h-1zM686 135.3h1V164h-1zM686 126.8h1V135.3h-1zM687 135.3h1V164h-1zM687 126.8h1V135.3h-1zM688 135.3h1V164h-1zM688 126.8h1V135.3h-1zM689 135.3h1V164h-1zM690 135.3h1V164h-1zM690 126.8h1V135.3h-1zM691 135.3h1V164h-1zM692 135.3h1V164h-1zM692 126.8h1V135.3h-1zM693 135.3h1V164h-1zM693 126.8h1V135.3h-1zM694 135.3h1V164h-1zM694 126.8h1V135.3h-1zM695 135.3h1V164h-1zM696 135.3h1V164h-1zM696 126.8h1V135.3h-1zM697 135.3h1V164h-1zM697 126.8h1V135.3h-1zM698 135.3h1V164h-1zM698 126.8h1V135.3h-1zM699 135.3h1V164h-1zM699 119h1V135.3h-1zM700 135.3h1V164h-1zM700 126.8h1V135.3h-1zM701 135.3h1V164h-1zM701 126.8h1V135.3h-1zM702 135.3h1V164h-1zM703 135.3h1V164h-1zM704 135.3h1V164h-1zM704 118h1V135.3h-1zM705 135.3h1V164h-1zM706 135.3h1V164h-1zM706 118h1V135.3h-1zM707 135.3h1V164h-1zM707 126.8h1V135.3h-1zM708 135.3h1V164h-1zM708 126.8h1V135.3h-1zM709 135.3h1V164h-1zM709 126.8h1V135.3h-1zM710 135.3h1V164h-1zM710 126.8h1V135.3h-1zM711 135.3h1V164h-1zM712 135.3h1V164h-1zM712 118h1V135.3h-1zM713 135.3h1V164h-1zM713 126.8h1V135.3h-1zM714 135.3h1V164h-1zM714 126.8h1V135.3h-1zM715 135.3h1V164h-1zM716 135.3h1V164h-1zM717 135.3h1V164h-1zM718 135.3h1V164h-1zM718 126.8h1V135.3h-1zM719 135.3h1V164h-1zM720 135.3h1V164h-1zM720 126.8h1V135.3h-1zM721 135.3h1V164h-1zM721 126.8h1V135.3h-1zM722 135.3h1V164h-1zM722 126.8h1V135.3h-1zM723 135.3h1V164h-1zM723 126.8h1V135.3h-1zM724 135.3h1V164h-1zM725 135.3h1V164h-1zM726 135.3h1V164h-1zM726 126.8h1V135.3h-1zM727 135.3h1V164h-1zM728 135.3h1V164h-1zM729 135.3h1V164h-1zM729 126.8h1V135.3h-1zM730 135.3h1V164h-1zM730 126.8h1V135.3h-1zM731 135.3h1V164h-1zM731 118h1V135.3h-1zM732 135.3h1V164h-1zM732 126.8h1V135.3h-1zM733 135.3h1V164h-1zM733 126.8h1V135.3h-1zM734 135.3h1V164h-1zM735 135.3h1V164h-1zM735 126.8h1V135.3h-1zM736 135.3h1V164h-1zM737 135.3h1V164h-1zM738 135.3h1V164h-1zM738 126.8h1V135.3h-1zM739 135.3h1V164h-1zM740 135.3h1V164h-1zM740 126.8h1V135.3h-1zM741 135.3h1V164h-1zM742 135.3h1V164h-1zM743 135.3h1V164h-1zM743 126.8h1V135.3h-1zM744 135.3h1V164h-1zM744 126.8h1V135.3h-1zM745 135.3h1V164h-1zM745 126.8h1V135.3h-1zM746 135.3h1V164h-1zM747 135.3h1V164h-1zM748 135.3h1V164h-1zM748 126.8h1V135.3h-1zM749 135.3h1V164h-1zM749 126.8h1V135.3h-1zM750 135.3h1V164h-1zM750 126.8h1V135.3h-1zM751 135.3h1V164h-1zM751 126.8h1V135.3h-1zM752 135.3h1V164h-1zM753 135.3h1V164h-1zM753 126.8h1V135.3h-1zM754 135.3h1V164h-1zM754 126.8h1V135.3h-1zM755 135.3h1V164h-1zM755 118h1V135.3h-1zM756 135.3h1V164h-1zM756 126.8h1V135.3h-1zM757 135.3h1V164h-1zM758 135.3h1V164h-1zM758 126.8h1V135.3h-1zM759 135.3h1V164h-1zM759 126.8h1V135.3h-1zM760 135.3h1V164h-1zM761 135.3h1V164h-1zM761 119h1V135.3h-1zM762 135.3h1V164h-1zM763 135.3h1V164h-1zM763 126.8h1V135.3h-1zM764 135.3h1V164h-1zM765 135.3h1V164h-1zM765 126.8h1V135.3h-1zM766 135.3h1V164h-1zM766 126.8h1V135.3h-1zM767 135.3h1V164h-1zM768 135.3h1V164h-1zM768 119h1V135.3h-1zM769 135.3h1V164h-1zM769 126.8h1V135.3h-1zM770 135.3h1V164h-1zM770 126.8h1V135.3h-1zM771 135.3h1V164h-1zM772 135.3h1V164h-1zM772 126.8h1V135.3h-1zM773 135.3h1V164h-1zM774 135.3h1V164h-1zM774 126.8h1V135.3h-1zM775 135.3h1V164h-1zM775 126.8h1V135.3h-1zM776 135.3h1V164h-1zM776 126.8h1V135.3h-1zM777 135.3h1V164h-1zM778 135.3h1V164h-1zM779 135.3h1V164h-1zM779 126.8h1V135.3h-1zM780 135.3h1V164h-1zM781 135.3h1V164h-1zM782 135.3h1V164h-1zM782 126.8h1V135.3h-1zM783 135.3h1V164h-1zM783 126.8h1V135.3h-1zM784 135.3h1V164h-1zM784 126.8h1V135.3h-1zM785 135.3h1V164h-1zM785 126.8h1V135.3h-1zM786 135.3h1V164h-1zM786 126.8h1V135.3h-1zM787 135.3h1V164h-1zM787 119h1V135.3h-1zM788 135.3h1V164h-1zM788 126.8h1V135.3h-1zM789 135.3h1V164h-1zM789 126.8h1V135.3h-1zM790 135.3h1V164h-1zM791 135.3h1V164h-1zM791 126.8h1V135.3h-1zM792 135.3h1V164h-1zM792 126.8h1V135.3h-1zM793 135.3h1V164h-1zM794 135.3h1V164h-1zM794 126.8h1V135.3h-1zM795 135.3h1V164h-1zM796 135.3h1V164h-1zM796 119h1V135.3h-1zM797 135.3h1V164h-1zM798 135.3h1V164h-1zM798 126.8h1V135.3h-1zM799 135.3h1V164h-1zM799 126.8h1V135.3h-1zM800 135.3h1V164h-1zM800 126.8h1V135.3h-1zM801 135.3h1V164h-1zM801 126.8h1V135.3h-1zM802 135.3h1V164h-1zM803 135.3h1V164h-1zM803 126.8h1V135.3h-1zM804 135.3h1V164h-1zM804 126.8h1V135.3h-1zM805 135.3h1V164h-1zM805 126.8h1V135.3h-1zM806 135.3h1V164h-1zM807 135.3h1V164h-1zM807 126.8h1V135.3h-1zM808 135.3h1V164h-1zM808 126.8h1V135.3h-1zM809 135.3h1V164h-1zM809 126.8h1V135.3h-1zM810 135.3h1V164h-1zM810 126.8h1V135.3h-1zM811 135.3h1V164h-1zM812 135.3h1V164h-1zM812 126.8h1V135.3h-1zM813 135.3h1V164h-1zM813 126.8h1V135.3h-1zM814 135.3h1V164h-1zM815 135.3h1V164h-1zM816 135.3h1V164h-1zM816 126.8h1V135.3h-1zM817 135.3h1V164h-1zM817 126.8h1V135.3h-1zM818 135.3h1V164h-1zM818 126.8h1V135.3h-1zM819 135.3h1V164h-1zM819 126.8h1V135.3h-1zM820 135.3h1V164h-1zM820 126.8h1V135.3h-1zM821 135.3h1V164h-1zM822 135.3h1V164h-1zM823 135.3h1V164h-1zM823 126.8h1V135.3h-1zM824 135.3h1V164h-1zM824 126.8h1V135.3h-1zM825 135.3h1V164h-1zM825 126.8h1V135.3h-1zM826 135.3h1V164h-1zM826 126.8h1V135.3h-1zM827 135.3h1V164h-1zM827 126.8h1V135.3h-1zM828 135.3h1V164h-1zM828 126.8h1V135.3h-1zM829 135.3h1V164h-1zM830 135.3h1V164h-1zM830 126.8h1V135.3h-1zM831 135.3h1V164h-1zM831 118h1V135.3h-1zM832 135.3h1V164h-1zM832 126.8h1V135.3h-1zM833 135.3h1V164h-1zM834 135.3h1V164h-1zM835 135.3h1V164h-1zM835 126.8h1V135.3h-1zM836 135.3h1V164h-1zM836 126.8h1V135.3h-1zM837 135.3h1V164h-1zM837 126.8h1V135.3h-1zM838 135.3h1V164h-1zM838 126.8h1V135.3h-1zM839 135.3h1V164h-1zM839 126.8h1V135.3h-1zM840 135.3h1V164h-1zM841 135.3h1V164h-1zM842 135.3h1V164h-1zM842 126.8h1V135.3h-1zM843 135.3h1V164h-1zM843 126.8h1V135.3h-1z" fill="#49381b"/>
  <path d="M288 161.3h1V164h-1zM289 159.4h1V164h-1zM290 155.5h1V164h-1zM291 154.5h1V164h-1zM292 154.3h1V164h-1zM293 151.3h1V164h-1zM294 149.4h1V164h-1zM295 146.8h1V164h-1zM297 144.3h1V164h-1zM300 147.6h1V164h-1zM302 151.5h1V164h-1zM303 156.7h1V164h-1zM304 156.2h1V164h-1zM306 156.3h1V164h-1zM307 156.9h1V164h-1zM308 155.6h1V164h-1zM309 152.3h1V164h-1zM310 151.4h1V164h-1zM311 155.7h1V164h-1zM312 152.2h1V164h-1zM313 155.7h1V164h-1zM314 152.4h1V164h-1zM315 148.4h1V164h-1zM316 146.8h1V164h-1zM317 150.0h1V164h-1zM318 153.1h1V164h-1zM319 156.2h1V164h-1zM320 155.7h1V164h-1zM321 154.6h1V164h-1zM322 153.1h1V164h-1zM323 155.9h1V164h-1zM325 153.8h1V164h-1zM326 146.8h1V164h-1zM327 154.0h1V164h-1zM328 151.4h1V164h-1zM330 151.4h1V164h-1zM333 150.9h1V164h-1zM335 157.3h1V164h-1zM336 156.4h1V164h-1zM337 156.0h1V164h-1zM338 155.9h1V164h-1zM339 156.7h1V164h-1zM340 152.9h1V164h-1zM342 153.2h1V164h-1zM343 152.6h1V164h-1zM347 150.9h1V164h-1zM348 150.3h1V164h-1zM352 147.2h1V164h-1zM353 148.2h1V164h-1zM354 141.2h1V164h-1zM355 148.8h1V164h-1zM356 145.0h1V164h-1zM358 153.2h1V164h-1zM361 150.6h1V164h-1zM363 155.1h1V164h-1zM364 155.7h1V164h-1zM365 153.9h1V164h-1zM366 152.3h1V164h-1zM367 151.3h1V164h-1zM368 145.6h1V164h-1zM369 147.1h1V164h-1zM370 148.7h1V164h-1zM371 150.8h1V164h-1zM373 158.2h1V164h-1zM374 161.1h1V164h-1zM378 157.1h1V164h-1zM381 151.5h1V164h-1zM384 153.7h1V164h-1zM386 159.1h1V164h-1zM387 161.1h1V164h-1zM390 160.9h1V164h-1zM391 160.2h1V164h-1zM392 158.4h1V164h-1zM396 153.8h1V164h-1zM397 153.4h1V164h-1zM398 153.8h1V164h-1zM399 152.3h1V164h-1zM400 149.6h1V164h-1zM417 161.4h1V164h-1zM418 161.5h1V164h-1zM419 160.5h1V164h-1zM420 158.5h1V164h-1zM421 156.4h1V164h-1zM422 157.6h1V164h-1zM424 155.7h1V164h-1zM426 152.3h1V164h-1zM427 152.8h1V164h-1zM430 149.3h1V164h-1zM431 147.4h1V164h-1zM432 151.2h1V164h-1zM433 153.6h1V164h-1zM435 144.8h1V164h-1zM437 149.5h1V164h-1zM438 143.3h1V164h-1zM439 145.3h1V164h-1zM442 154.8h1V164h-1zM443 154.7h1V164h-1zM445 148.4h1V164h-1zM448 149.7h1V164h-1zM450 154.6h1V164h-1zM452 154.8h1V164h-1zM453 154.1h1V164h-1zM454 155.9h1V164h-1zM455 158.8h1V164h-1zM457 155.7h1V164h-1zM459 153.5h1V164h-1zM461 147.9h1V164h-1zM462 149.5h1V164h-1zM463 144.4h1V164h-1zM464 149.9h1V164h-1zM465 148.6h1V164h-1zM466 147.2h1V164h-1zM467 150.0h1V164h-1zM468 155.1h1V164h-1zM470 149.8h1V164h-1zM471 144.9h1V164h-1zM472 150.3h1V164h-1zM473 149.9h1V164h-1zM474 154.4h1V164h-1zM475 155.5h1V164h-1zM476 154.7h1V164h-1zM477 155.2h1V164h-1zM478 155.7h1V164h-1zM479 152.3h1V164h-1zM480 149.8h1V164h-1zM481 151.3h1V164h-1zM482 150.9h1V164h-1zM484 156.5h1V164h-1zM485 156.4h1V164h-1zM487 158.9h1V164h-1zM488 156.6h1V164h-1zM489 157.4h1V164h-1zM490 153.4h1V164h-1zM492 153.7h1V164h-1zM493 155.2h1V164h-1zM495 153.3h1V164h-1zM496 156.6h1V164h-1zM498 151.5h1V164h-1zM499 149.2h1V164h-1zM500 146.7h1V164h-1zM501 144.2h1V164h-1zM503 148.8h1V164h-1zM505 156.5h1V164h-1zM506 160.7h1V164h-1zM510 161.0h1V164h-1zM512 157.3h1V164h-1zM513 154.6h1V164h-1zM521 151.0h1V164h-1zM522 156.3h1V164h-1zM523 157.4h1V164h-1zM524 156.3h1V164h-1zM526 150.9h1V164h-1zM527 154.2h1V164h-1zM530 144.4h1V164h-1zM531 144.5h1V164h-1zM532 146.4h1V164h-1zM533 146.2h1V164h-1zM536 148.2h1V164h-1zM537 154.6h1V164h-1zM538 154.7h1V164h-1zM539 156.7h1V164h-1zM540 156.5h1V164h-1zM541 155.8h1V164h-1zM542 156.1h1V164h-1zM543 154.7h1V164h-1zM544 149.8h1V164h-1zM545 151.7h1V164h-1zM548 143.9h1V164h-1zM549 144.8h1V164h-1zM550 146.0h1V164h-1zM552 152.1h1V164h-1zM553 151.1h1V164h-1zM554 154.6h1V164h-1zM556 154.4h1V164h-1zM557 152.9h1V164h-1zM558 153.1h1V164h-1zM559 153.3h1V164h-1zM560 148.7h1V164h-1zM561 147.5h1V164h-1zM563 148.7h1V164h-1zM567 149.9h1V164h-1zM569 149.5h1V164h-1zM570 152.7h1V164h-1zM571 153.7h1V164h-1zM572 152.2h1V164h-1zM573 153.8h1V164h-1zM574 147.5h1V164h-1zM575 152.7h1V164h-1zM576 149.5h1V164h-1zM577 154.3h1V164h-1zM580 153.4h1V164h-1zM581 156.9h1V164h-1zM582 152.6h1V164h-1zM583 152.3h1V164h-1zM585 155.0h1V164h-1zM586 153.4h1V164h-1zM588 157.5h1V164h-1zM589 156.7h1V164h-1zM590 157.9h1V164h-1zM592 154.9h1V164h-1zM594 152.3h1V164h-1zM596 149.9h1V164h-1zM598 156.3h1V164h-1zM599 153.2h1V164h-1zM600 153.2h1V164h-1zM602 147.4h1V164h-1zM603 147.4h1V164h-1zM604 142.9h1V164h-1zM606 148.6h1V164h-1zM607 154.9h1V164h-1zM608 153.5h1V164h-1zM609 158.6h1V164h-1zM610 158.5h1V164h-1zM611 155.1h1V164h-1zM614 147.8h1V164h-1zM617 141.5h1V164h-1zM618 145.1h1V164h-1zM619 145.5h1V164h-1zM623 154.5h1V164h-1zM624 154.0h1V164h-1zM625 151.8h1V164h-1zM626 153.6h1V164h-1zM627 156.1h1V164h-1zM628 160.2h1V164h-1zM629 161.9h1V164h-1zM630 161.4h1V164h-1zM631 160.4h1V164h-1zM632 159.7h1V164h-1zM633 158.5h1V164h-1zM634 156.1h1V164h-1zM635 154.8h1V164h-1zM637 155.6h1V164h-1zM638 153.3h1V164h-1zM641 146.3h1V164h-1zM643 145.4h1V164h-1zM644 148.9h1V164h-1zM645 141.3h1V164h-1zM646 146.9h1V164h-1zM648 142.6h1V164h-1zM649 145.2h1V164h-1zM650 150.0h1V164h-1zM651 142.4h1V164h-1zM654 138.0h1V164h-1zM656 140.9h1V164h-1zM658 148.4h1V164h-1zM659 150.8h1V164h-1zM660 155.4h1V164h-1zM661 155.5h1V164h-1zM662 148.4h1V164h-1zM663 148.5h1V164h-1zM664 150.6h1V164h-1zM667 141.7h1V164h-1zM669 141.0h1V164h-1zM670 148.7h1V164h-1zM672 153.7h1V164h-1zM673 151.6h1V164h-1zM675 157.0h1V164h-1zM676 153.6h1V164h-1zM677 152.3h1V164h-1zM678 153.5h1V164h-1zM679 153.8h1V164h-1zM680 155.4h1V164h-1zM681 156.3h1V164h-1zM682 158.0h1V164h-1zM683 160.2h1V164h-1zM684 159.8h1V164h-1zM686 156.8h1V164h-1zM687 155.3h1V164h-1zM689 151.5h1V164h-1zM690 153.0h1V164h-1zM692 146.3h1V164h-1zM693 148.2h1V164h-1zM694 152.6h1V164h-1zM696 154.5h1V164h-1zM697 158.2h1V164h-1zM698 158.4h1V164h-1zM699 158.6h1V164h-1zM700 156.5h1V164h-1zM701 154.7h1V164h-1zM702 156.7h1V164h-1zM703 152.0h1V164h-1zM704 152.9h1V164h-1zM705 154.1h1V164h-1zM706 148.1h1V164h-1zM707 149.5h1V164h-1zM710 149.9h1V164h-1zM711 144.9h1V164h-1zM713 146.5h1V164h-1zM714 139.8h1V164h-1zM715 137.9h1V164h-1zM716 142.3h1V164h-1zM717 147.9h1V164h-1zM719 152.8h1V164h-1zM720 145.5h1V164h-1zM721 149.4h1V164h-1zM724 157.9h1V164h-1zM726 161.9h1V164h-1zM731 161.5h1V164h-1zM732 159.7h1V164h-1zM734 158.6h1V164h-1zM735 157.1h1V164h-1zM736 154.0h1V164h-1zM740 153.5h1V164h-1zM742 150.5h1V164h-1zM743 148.6h1V164h-1zM746 153.6h1V164h-1zM747 151.1h1V164h-1zM748 153.3h1V164h-1zM750 151.1h1V164h-1zM751 154.6h1V164h-1zM752 154.4h1V164h-1zM753 153.6h1V164h-1zM754 156.6h1V164h-1zM756 158.1h1V164h-1zM757 159.9h1V164h-1zM758 158.3h1V164h-1zM759 156.3h1V164h-1zM760 156.8h1V164h-1zM761 153.7h1V164h-1zM762 152.2h1V164h-1zM763 153.7h1V164h-1zM764 152.9h1V164h-1zM765 145.9h1V164h-1zM766 147.6h1V164h-1zM767 145.6h1V164h-1zM768 148.6h1V164h-1zM771 149.0h1V164h-1zM772 151.2h1V164h-1zM773 144.3h1V164h-1zM774 147.2h1V164h-1zM775 149.8h1V164h-1zM779 156.0h1V164h-1zM781 160.4h1V164h-1zM782 155.1h1V164h-1zM783 155.3h1V164h-1zM784 147.9h1V164h-1zM785 142.5h1V164h-1zM786 143.3h1V164h-1zM787 144.2h1V164h-1zM789 146.2h1V164h-1zM790 152.3h1V164h-1zM791 157.6h1V164h-1zM794 161.1h1V164h-1zM796 156.7h1V164h-1zM797 152.2h1V164h-1zM798 154.7h1V164h-1zM800 157.7h1V164h-1zM802 161.3h1V164h-1zM803 160.4h1V164h-1zM804 160.0h1V164h-1zM806 157.3h1V164h-1zM809 153.2h1V164h-1zM810 150.3h1V164h-1zM813 150.7h1V164h-1zM818 153.4h1V164h-1zM819 153.1h1V164h-1zM820 144.8h1V164h-1zM821 143.6h1V164h-1zM822 141.7h1V164h-1zM823 141.2h1V164h-1zM824 146.5h1V164h-1zM827 152.8h1V164h-1zM828 153.8h1V164h-1zM829 158.1h1V164h-1zM830 158.5h1V164h-1zM831 156.5h1V164h-1zM832 156.5h1V164h-1zM834 150.5h1V164h-1zM836 149.8h1V164h-1zM837 147.3h1V164h-1zM838 147.5h1V164h-1zM840 145h1V164h-1zM841 143.5h1V164h-1zM841 145h1V164h-1zM842 147.1h1V164h-1zM842 145h1V164h-1zM843 145h1V164h-1z" fill="#42211f"/>
  <rect x="159" y="164.2" width="686" height="2.8" fill="#808080"/>
  <rect x="399.6" y="126" width="18" height="42" fill="#141414"/>
  <rect x="400.8" y="164.2" width="15.8" height="2.2" fill="#9a9a9a"/>
  <rect x="400.8" y="126.8" width="15.8" height="37.2" fill="#d08c1a"/>
  <rect x="408.8" y="126.8" width="3.2" height="8" fill="#1e1e1e"/>
  <path d="M400.8 146h3v4h3v-3h3v6h2v-6h2v5h2.8V164h-15.8z" fill="#c96a26"/>
  <path d="M400.8 160h2v-1h3v2h3v-2h4v3h4V164h-15.8z" fill="#c8402a"/>
  <rect x="159" y="164" width="3" height="7" fill="#bdbdbd"/>
  <rect x="842.5" y="164" width="2.5" height="7" fill="#bdbdbd"/>
  <g fill="#909eac" stroke="#909eac" stroke-width="0.45">
    <text x="159.5" y="187.6">0</text>
    <text x="502" y="187.6" text-anchor="middle">Time</text>
    <text x="845.5" y="187.6" text-anchor="end">2029.038327s</text>
    <text x="171.4" y="221.2" text-anchor="middle">715s</text><text x="244.9" y="221.2" text-anchor="middle">720s</text><text x="318.4" y="221.2" text-anchor="middle">725s</text><text x="392.0" y="221.2" text-anchor="middle">730s</text><text x="465.5" y="221.2" text-anchor="middle">735s</text><text x="539.0" y="221.2" text-anchor="middle">740s</text><text x="612.5" y="221.2" text-anchor="middle">745s</text><text x="686.0" y="221.2" text-anchor="middle">750s</text><text x="759.6" y="221.2" text-anchor="middle">755s</text><text x="833.1" y="221.2" text-anchor="middle">760s</text><text x="171.4" y="539" text-anchor="middle">715s</text><text x="244.9" y="539" text-anchor="middle">720s</text><text x="318.4" y="539" text-anchor="middle">725s</text><text x="392.0" y="539" text-anchor="middle">730s</text><text x="465.5" y="539" text-anchor="middle">735s</text><text x="539.0" y="539" text-anchor="middle">740s</text><text x="612.5" y="539" text-anchor="middle">745s</text><text x="686.0" y="539" text-anchor="middle">750s</text><text x="759.6" y="539" text-anchor="middle">755s</text><text x="833.1" y="539" text-anchor="middle">760s</text>
  </g>
  <rect x="141.1" y="197.7" width="1.8" height="3" fill="#858585"/><rect x="141.1" y="229.8" width="1.8" height="3" fill="#858585"/><rect x="155.8" y="197.7" width="1.8" height="3" fill="#858585"/><rect x="155.8" y="229.8" width="1.8" height="3" fill="#858585"/><rect x="170.5" y="197.7" width="1.8" height="7" fill="#a0a0a0"/><rect x="170.5" y="225.8" width="1.8" height="7" fill="#a0a0a0"/><rect x="185.2" y="197.7" width="1.8" height="3" fill="#858585"/><rect x="185.2" y="229.8" width="1.8" height="3" fill="#858585"/><rect x="199.9" y="197.7" width="1.8" height="3" fill="#858585"/><rect x="199.9" y="229.8" width="1.8" height="3" fill="#858585"/><rect x="214.6" y="197.7" width="1.8" height="3" fill="#858585"/><rect x="214.6" y="229.8" width="1.8" height="3" fill="#858585"/><rect x="229.3" y="197.7" width="1.8" height="3" fill="#858585"/><rect x="229.3" y="229.8" width="1.8" height="3" fill="#858585"/><rect x="244.0" y="197.7" width="1.8" height="7" fill="#a0a0a0"/><rect x="244.0" y="225.8" width="1.8" height="7" fill="#a0a0a0"/><rect x="258.7" y="197.7" width="1.8" height="3" fill="#858585"/><rect x="258.7" y="229.8" width="1.8" height="3" fill="#858585"/><rect x="273.4" y="197.7" width="1.8" height="3" fill="#858585"/><rect x="273.4" y="229.8" width="1.8" height="3" fill="#858585"/><rect x="288.1" y="197.7" width="1.8" height="3" fill="#858585"/><rect x="288.1" y="229.8" width="1.8" height="3" fill="#858585"/><rect x="302.8" y="197.7" width="1.8" height="3" fill="#858585"/><rect x="302.8" y="229.8" width="1.8" height="3" fill="#858585"/><rect x="317.5" y="197.7" width="1.8" height="7" fill="#a0a0a0"/><rect x="317.5" y="225.8" width="1.8" height="7" fill="#a0a0a0"/><rect x="332.2" y="197.7" width="1.8" height="3" fill="#858585"/><rect x="332.2" y="229.8" width="1.8" height="3" fill="#858585"/><rect x="346.9" y="197.7" width="1.8" height="3" fill="#858585"/><rect x="346.9" y="229.8" width="1.8" height="3" fill="#858585"/><rect x="361.7" y="197.7" width="1.8" height="3" fill="#858585"/><rect x="361.7" y="229.8" width="1.8" height="3" fill="#858585"/><rect x="376.4" y="197.7" width="1.8" height="3" fill="#858585"/><rect x="376.4" y="229.8" width="1.8" height="3" fill="#858585"/><rect x="391.1" y="197.7" width="1.8" height="7" fill="#a0a0a0"/><rect x="391.1" y="225.8" width="1.8" height="7" fill="#a0a0a0"/><rect x="405.8" y="197.7" width="1.8" height="3" fill="#858585"/><rect x="405.8" y="229.8" width="1.8" height="3" fill="#858585"/><rect x="420.5" y="197.7" width="1.8" height="3" fill="#858585"/><rect x="420.5" y="229.8" width="1.8" height="3" fill="#858585"/><rect x="435.2" y="197.7" width="1.8" height="3" fill="#858585"/><rect x="435.2" y="229.8" width="1.8" height="3" fill="#858585"/><rect x="449.9" y="197.7" width="1.8" height="3" fill="#858585"/><rect x="449.9" y="229.8" width="1.8" height="3" fill="#858585"/><rect x="464.6" y="197.7" width="1.8" height="7" fill="#a0a0a0"/><rect x="464.6" y="225.8" width="1.8" height="7" fill="#a0a0a0"/><rect x="479.3" y="197.7" width="1.8" height="3" fill="#858585"/><rect x="479.3" y="229.8" width="1.8" height="3" fill="#858585"/><rect x="494.0" y="197.7" width="1.8" height="3" fill="#858585"/><rect x="494.0" y="229.8" width="1.8" height="3" fill="#858585"/><rect x="508.7" y="197.7" width="1.8" height="3" fill="#858585"/><rect x="508.7" y="229.8" width="1.8" height="3" fill="#858585"/><rect x="523.4" y="197.7" width="1.8" height="3" fill="#858585"/><rect x="523.4" y="229.8" width="1.8" height="3" fill="#858585"/><rect x="538.1" y="197.7" width="1.8" height="7" fill="#a0a0a0"/><rect x="538.1" y="225.8" width="1.8" height="7" fill="#a0a0a0"/><rect x="552.8" y="197.7" width="1.8" height="3" fill="#858585"/><rect x="552.8" y="229.8" width="1.8" height="3" fill="#858585"/><rect x="567.5" y="197.7" width="1.8" height="3" fill="#858585"/><rect x="567.5" y="229.8" width="1.8" height="3" fill="#858585"/><rect x="582.2" y="197.7" width="1.8" height="3" fill="#858585"/><rect x="582.2" y="229.8" width="1.8" height="3" fill="#858585"/><rect x="596.9" y="197.7" width="1.8" height="3" fill="#858585"/><rect x="596.9" y="229.8" width="1.8" height="3" fill="#858585"/><rect x="611.6" y="197.7" width="1.8" height="7" fill="#a0a0a0"/><rect x="611.6" y="225.8" width="1.8" height="7" fill="#a0a0a0"/><rect x="626.3" y="197.7" width="1.8" height="3" fill="#858585"/><rect x="626.3" y="229.8" width="1.8" height="3" fill="#858585"/><rect x="641.0" y="197.7" width="1.8" height="3" fill="#858585"/><rect x="641.0" y="229.8" width="1.8" height="3" fill="#858585"/><rect x="655.7" y="197.7" width="1.8" height="3" fill="#858585"/><rect x="655.7" y="229.8" width="1.8" height="3" fill="#858585"/><rect x="670.4" y="197.7" width="1.8" height="3" fill="#858585"/><rect x="670.4" y="229.8" width="1.8" height="3" fill="#858585"/><rect x="685.1" y="197.7" width="1.8" height="7" fill="#a0a0a0"/><rect x="685.1" y="225.8" width="1.8" height="7" fill="#a0a0a0"/><rect x="699.8" y="197.7" width="1.8" height="3" fill="#858585"/><rect x="699.8" y="229.8" width="1.8" height="3" fill="#858585"/><rect x="714.5" y="197.7" width="1.8" height="3" fill="#858585"/><rect x="714.5" y="229.8" width="1.8" height="3" fill="#858585"/><rect x="729.3" y="197.7" width="1.8" height="3" fill="#858585"/><rect x="729.3" y="229.8" width="1.8" height="3" fill="#858585"/><rect x="744.0" y="197.7" width="1.8" height="3" fill="#858585"/><rect x="744.0" y="229.8" width="1.8" height="3" fill="#858585"/><rect x="758.7" y="197.7" width="1.8" height="7" fill="#a0a0a0"/><rect x="758.7" y="225.8" width="1.8" height="7" fill="#a0a0a0"/><rect x="773.4" y="197.7" width="1.8" height="3" fill="#858585"/><rect x="773.4" y="229.8" width="1.8" height="3" fill="#858585"/><rect x="788.1" y="197.7" width="1.8" height="3" fill="#858585"/><rect x="788.1" y="229.8" width="1.8" height="3" fill="#858585"/><rect x="802.8" y="197.7" width="1.8" height="3" fill="#858585"/><rect x="802.8" y="229.8" width="1.8" height="3" fill="#858585"/><rect x="817.5" y="197.7" width="1.8" height="3" fill="#858585"/><rect x="817.5" y="229.8" width="1.8" height="3" fill="#858585"/><rect x="832.2" y="197.7" width="1.8" height="7" fill="#a0a0a0"/><rect x="832.2" y="225.8" width="1.8" height="7" fill="#a0a0a0"/><rect x="846.9" y="197.7" width="1.8" height="3" fill="#858585"/><rect x="846.9" y="229.8" width="1.8" height="3" fill="#858585"/><rect x="141.1" y="515" width="1.8" height="3" fill="#858585"/><rect x="141.1" y="547.5" width="1.8" height="3" fill="#858585"/><rect x="155.8" y="515" width="1.8" height="3" fill="#858585"/><rect x="155.8" y="547.5" width="1.8" height="3" fill="#858585"/><rect x="170.5" y="515" width="1.8" height="7" fill="#a0a0a0"/><rect x="170.5" y="543.5" width="1.8" height="7" fill="#a0a0a0"/><rect x="185.2" y="515" width="1.8" height="3" fill="#858585"/><rect x="185.2" y="547.5" width="1.8" height="3" fill="#858585"/><rect x="199.9" y="515" width="1.8" height="3" fill="#858585"/><rect x="199.9" y="547.5" width="1.8" height="3" fill="#858585"/><rect x="214.6" y="515" width="1.8" height="3" fill="#858585"/><rect x="214.6" y="547.5" width="1.8" height="3" fill="#858585"/><rect x="229.3" y="515" width="1.8" height="3" fill="#858585"/><rect x="229.3" y="547.5" width="1.8" height="3" fill="#858585"/><rect x="244.0" y="515" width="1.8" height="7" fill="#a0a0a0"/><rect x="244.0" y="543.5" width="1.8" height="7" fill="#a0a0a0"/><rect x="258.7" y="515" width="1.8" height="3" fill="#858585"/><rect x="258.7" y="547.5" width="1.8" height="3" fill="#858585"/><rect x="273.4" y="515" width="1.8" height="3" fill="#858585"/><rect x="273.4" y="547.5" width="1.8" height="3" fill="#858585"/><rect x="288.1" y="515" width="1.8" height="3" fill="#858585"/><rect x="288.1" y="547.5" width="1.8" height="3" fill="#858585"/><rect x="302.8" y="515" width="1.8" height="3" fill="#858585"/><rect x="302.8" y="547.5" width="1.8" height="3" fill="#858585"/><rect x="317.5" y="515" width="1.8" height="7" fill="#a0a0a0"/><rect x="317.5" y="543.5" width="1.8" height="7" fill="#a0a0a0"/><rect x="332.2" y="515" width="1.8" height="3" fill="#858585"/><rect x="332.2" y="547.5" width="1.8" height="3" fill="#858585"/><rect x="346.9" y="515" width="1.8" height="3" fill="#858585"/><rect x="346.9" y="547.5" width="1.8" height="3" fill="#858585"/><rect x="361.7" y="515" width="1.8" height="3" fill="#858585"/><rect x="361.7" y="547.5" width="1.8" height="3" fill="#858585"/><rect x="376.4" y="515" width="1.8" height="3" fill="#858585"/><rect x="376.4" y="547.5" width="1.8" height="3" fill="#858585"/><rect x="391.1" y="515" width="1.8" height="7" fill="#a0a0a0"/><rect x="391.1" y="543.5" width="1.8" height="7" fill="#a0a0a0"/><rect x="405.8" y="515" width="1.8" height="3" fill="#858585"/><rect x="405.8" y="547.5" width="1.8" height="3" fill="#858585"/><rect x="420.5" y="515" width="1.8" height="3" fill="#858585"/><rect x="420.5" y="547.5" width="1.8" height="3" fill="#858585"/><rect x="435.2" y="515" width="1.8" height="3" fill="#858585"/><rect x="435.2" y="547.5" width="1.8" height="3" fill="#858585"/><rect x="449.9" y="515" width="1.8" height="3" fill="#858585"/><rect x="449.9" y="547.5" width="1.8" height="3" fill="#858585"/><rect x="464.6" y="515" width="1.8" height="7" fill="#a0a0a0"/><rect x="464.6" y="543.5" width="1.8" height="7" fill="#a0a0a0"/><rect x="479.3" y="515" width="1.8" height="3" fill="#858585"/><rect x="479.3" y="547.5" width="1.8" height="3" fill="#858585"/><rect x="494.0" y="515" width="1.8" height="3" fill="#858585"/><rect x="494.0" y="547.5" width="1.8" height="3" fill="#858585"/><rect x="508.7" y="515" width="1.8" height="3" fill="#858585"/><rect x="508.7" y="547.5" width="1.8" height="3" fill="#858585"/><rect x="523.4" y="515" width="1.8" height="3" fill="#858585"/><rect x="523.4" y="547.5" width="1.8" height="3" fill="#858585"/><rect x="538.1" y="515" width="1.8" height="7" fill="#a0a0a0"/><rect x="538.1" y="543.5" width="1.8" height="7" fill="#a0a0a0"/><rect x="552.8" y="515" width="1.8" height="3" fill="#858585"/><rect x="552.8" y="547.5" width="1.8" height="3" fill="#858585"/><rect x="567.5" y="515" width="1.8" height="3" fill="#858585"/><rect x="567.5" y="547.5" width="1.8" height="3" fill="#858585"/><rect x="582.2" y="515" width="1.8" height="3" fill="#858585"/><rect x="582.2" y="547.5" width="1.8" height="3" fill="#858585"/><rect x="596.9" y="515" width="1.8" height="3" fill="#858585"/><rect x="596.9" y="547.5" width="1.8" height="3" fill="#858585"/><rect x="611.6" y="515" width="1.8" height="7" fill="#a0a0a0"/><rect x="611.6" y="543.5" width="1.8" height="7" fill="#a0a0a0"/><rect x="626.3" y="515" width="1.8" height="3" fill="#858585"/><rect x="626.3" y="547.5" width="1.8" height="3" fill="#858585"/><rect x="641.0" y="515" width="1.8" height="3" fill="#858585"/><rect x="641.0" y="547.5" width="1.8" height="3" fill="#858585"/><rect x="655.7" y="515" width="1.8" height="3" fill="#858585"/><rect x="655.7" y="547.5" width="1.8" height="3" fill="#858585"/><rect x="670.4" y="515" width="1.8" height="3" fill="#858585"/><rect x="670.4" y="547.5" width="1.8" height="3" fill="#858585"/><rect x="685.1" y="515" width="1.8" height="7" fill="#a0a0a0"/><rect x="685.1" y="543.5" width="1.8" height="7" fill="#a0a0a0"/><rect x="699.8" y="515" width="1.8" height="3" fill="#858585"/><rect x="699.8" y="547.5" width="1.8" height="3" fill="#858585"/><rect x="714.5" y="515" width="1.8" height="3" fill="#858585"/><rect x="714.5" y="547.5" width="1.8" height="3" fill="#858585"/><rect x="729.3" y="515" width="1.8" height="3" fill="#858585"/><rect x="729.3" y="547.5" width="1.8" height="3" fill="#858585"/><rect x="744.0" y="515" width="1.8" height="3" fill="#858585"/><rect x="744.0" y="547.5" width="1.8" height="3" fill="#858585"/><rect x="758.7" y="515" width="1.8" height="7" fill="#a0a0a0"/><rect x="758.7" y="543.5" width="1.8" height="7" fill="#a0a0a0"/><rect x="773.4" y="515" width="1.8" height="3" fill="#858585"/><rect x="773.4" y="547.5" width="1.8" height="3" fill="#858585"/><rect x="788.1" y="515" width="1.8" height="3" fill="#858585"/><rect x="788.1" y="547.5" width="1.8" height="3" fill="#858585"/><rect x="802.8" y="515" width="1.8" height="3" fill="#858585"/><rect x="802.8" y="547.5" width="1.8" height="3" fill="#858585"/><rect x="817.5" y="515" width="1.8" height="3" fill="#858585"/><rect x="817.5" y="547.5" width="1.8" height="3" fill="#858585"/><rect x="832.2" y="515" width="1.8" height="7" fill="#a0a0a0"/><rect x="832.2" y="543.5" width="1.8" height="7" fill="#a0a0a0"/><rect x="846.9" y="515" width="1.8" height="3" fill="#858585"/><rect x="846.9" y="547.5" width="1.8" height="3" fill="#858585"/>
  <path fill="#b57819" d="M159 238.5H193V340H159zM193 263.5H208.6V340H193zM247 238.5H311.4V340H247zM311.4 263.5H317V340H311.4zM351 238.5H447.3V340H351zM447.3 263.5H449.6V340H447.3zM465.2 238.5H518.2V340H465.2zM518.2 263.5H535.6V340H518.2zM585.1 238.5H614.2V340H585.1zM614.2 263.5H678.5V340H614.2zM691.7 238.5H756.7V340H691.7zM756.7 263.5H764.5V340H756.7zM809.5 238.5H844V340H809.5z"/><path fill="#9e3030" d="M208.6 288.8H247V340H208.6zM317 288.8H351V340H317zM449.6 288.8H465.2V340H449.6zM535.6 288.8H585.1V340H535.6zM678.5 288.8H691.7V340H678.5zM764.5 288.8H809.5V340H764.5z"/><rect x="246.6" y="259.5" width="1.2" height="80.5" fill="#9e3a2c"/><rect x="350.8" y="311" width="1.2" height="29" fill="#9e3030"/><rect x="343" y="288.8" width="1.6" height="25" fill="#5a1e1e"/><path fill="#ab9b7e" d="M159 340H193V341.2H159zM193 340H208.6V341.2H193zM247 340H311.4V341.2H247zM311.4 340H317V341.2H311.4zM351 340H447.3V341.2H351zM447.3 340H449.6V341.2H447.3zM465.2 340H518.2V341.2H465.2zM518.2 340H535.6V341.2H518.2zM585.1 340H614.2V341.2H585.1zM614.2 340H678.5V341.2H614.2zM691.7 340H756.7V341.2H691.7zM756.7 340H764.5V341.2H756.7zM809.5 340H844V341.2H809.5z"/><path fill="#a08088" d="M208.6 340H247V341.2H208.6zM317 340H351V341.2H317zM449.6 340H465.2V341.2H449.6zM535.6 340H585.1V341.2H535.6zM678.5 340H691.7V341.2H678.5zM764.5 340H809.5V341.2H764.5z"/>
  <rect x="56.5" y="366.8" width="788.5" height="1.5" fill="#313131"/><rect x="56.5" y="387.6" width="788.5" height="1.5" fill="#313131"/><rect x="56.5" y="408.4" width="788.5" height="1.5" fill="#313131"/><rect x="56.5" y="429.2" width="788.5" height="1.5" fill="#313131"/><rect x="56.5" y="450.0" width="788.5" height="1.5" fill="#313131"/><rect x="56.5" y="470.8" width="788.5" height="1.5" fill="#313131"/><rect x="56.5" y="491.6" width="788.5" height="1.5" fill="#313131"/><rect x="56.5" y="512.4" width="788.5" height="1.5" fill="#313131"/><rect x="161.0" y="347.5" width="683.1" height="19.3" fill="#3c2327"/><rect x="809.5" y="368.3" width="34.6" height="19.3" fill="#3c2327"/><rect x="350.5" y="389.1" width="97.1" height="19.3" fill="#3c2327"/><rect x="450.2" y="389.1" width="14.8" height="19.3" fill="#3c2327"/><rect x="466.7" y="389.1" width="48.8" height="19.3" fill="#3c2327"/><rect x="584.7" y="389.1" width="93.5" height="19.3" fill="#3c2327"/><rect x="246.3" y="409.9" width="96.9" height="19.3" fill="#c4ca24"/><rect x="344.5" y="409.9" width="104.8" height="19.3" fill="#3c2327"/><rect x="465.0" y="409.9" width="94.7" height="19.3" fill="#3c2327"/><rect x="559.7" y="409.9" width="53.7" height="19.3" fill="#3c2327"/><rect x="160.8" y="430.7" width="78.7" height="19.3" fill="#c4ca24"/><rect x="239.5" y="430.7" width="76.4" height="19.3" fill="#3c2327"/><rect x="350.7" y="430.7" width="95.2" height="19.3" fill="#c4ca24"/><rect x="691.0" y="430.7" width="95.5" height="19.3" fill="#c4ca24"/><rect x="787.4" y="430.7" width="56.7" height="19.3" fill="#3c2327"/><rect x="161.0" y="451.5" width="30.2" height="19.3" fill="#3c2327"/><rect x="161.0" y="472.3" width="45.6" height="19.3" fill="#3c2327"/><rect x="246.9" y="472.3" width="63.7" height="19.3" fill="#3c2327"/><rect x="465.9" y="472.3" width="71.1" height="19.3" fill="#c4ca24"/><rect x="691.0" y="472.3" width="65.4" height="19.3" fill="#3c2327"/><rect x="809.0" y="472.3" width="35.1" height="19.3" fill="#c4ca24"/><rect x="584.5" y="493.1" width="94.1" height="19.3" fill="#c4ca24"/><rect x="678.6" y="493.1" width="85.8" height="19.3" fill="#3c2327"/><g clip-path="url(#rowclip)"><text x="399.1" y="404.6" text-anchor="middle" fill="#2d1f21" stroke="#2d1f21" stroke-width="0.35">detect_A</text><text x="491.1" y="404.6" text-anchor="middle" fill="#2d1f21" stroke="#2d1f21" stroke-width="0.35">src</text><text x="631.5" y="404.6" text-anchor="middle" fill="#2d1f21" stroke="#2d1f21" stroke-width="0.35">detect_A</text><text x="294.8" y="425.4" text-anchor="middle" fill="#3b3b12" stroke="#3b3b12" stroke-width="0.35">detect_B</text><text x="406.0" y="425.4" text-anchor="middle" fill="#2d1f21" stroke="#2d1f21" stroke-width="0.35">src</text><text x="512.4" y="425.4" text-anchor="middle" fill="#2d1f21" stroke="#2d1f21" stroke-width="0.35">detect_A</text><text x="586.5" y="425.4" text-anchor="middle" fill="#2d1f21" stroke="#2d1f21" stroke-width="0.35">src</text><text x="200.2" y="446.2" text-anchor="middle" fill="#3b3b12" stroke="#3b3b12" stroke-width="0.35">detect_B</text><text x="277.7" y="446.2" text-anchor="middle" fill="#2d1f21" stroke="#2d1f21" stroke-width="0.35">src</text><text x="398.3" y="446.2" text-anchor="middle" fill="#3b3b12" stroke="#3b3b12" stroke-width="0.35">detect_B</text><text x="738.8" y="446.2" text-anchor="middle" fill="#3b3b12" stroke="#3b3b12" stroke-width="0.35">detect_B</text><text x="815.8" y="446.2" text-anchor="middle" fill="#2d1f21" stroke="#2d1f21" stroke-width="0.35">src</text><text x="176.1" y="467.0" text-anchor="middle" fill="#2d1f21" stroke="#2d1f21" stroke-width="0.35">src</text><text x="278.8" y="487.8" text-anchor="middle" fill="#2d1f21" stroke="#2d1f21" stroke-width="0.35">detect_A</text><text x="501.4" y="487.8" text-anchor="middle" fill="#3b3b12" stroke="#3b3b12" stroke-width="0.35">detect_B</text><text x="723.7" y="487.8" text-anchor="middle" fill="#2d1f21" stroke="#2d1f21" stroke-width="0.35">detect_A</text><text x="631.5" y="508.6" text-anchor="middle" fill="#3b3b12" stroke="#3b3b12" stroke-width="0.35">detect_B</text><text x="721.5" y="508.6" text-anchor="middle" fill="#2d1f21" stroke="#2d1f21" stroke-width="0.35">src</text></g><text x="108.1" y="363.9" text-anchor="middle" fill="#b2b7bc" stroke="#b2b7bc" stroke-width="0.7" style="font:14px 'DejaVu Sans', 'Liberation Sans', sans-serif;letter-spacing:0.66px">Thread 0</text><text x="108.1" y="384.7" text-anchor="middle" fill="#b2b7bc" stroke="#b2b7bc" stroke-width="0.7" style="font:14px 'DejaVu Sans', 'Liberation Sans', sans-serif;letter-spacing:0.66px">Thread 1</text><text x="108.1" y="405.5" text-anchor="middle" fill="#b2b7bc" stroke="#b2b7bc" stroke-width="0.7" style="font:14px 'DejaVu Sans', 'Liberation Sans', sans-serif;letter-spacing:0.66px">Thread 2</text><text x="108.1" y="426.3" text-anchor="middle" fill="#b2b7bc" stroke="#b2b7bc" stroke-width="0.7" style="font:14px 'DejaVu Sans', 'Liberation Sans', sans-serif;letter-spacing:0.66px">Thread 3</text><text x="108.1" y="447.1" text-anchor="middle" fill="#b2b7bc" stroke="#b2b7bc" stroke-width="0.7" style="font:14px 'DejaVu Sans', 'Liberation Sans', sans-serif;letter-spacing:0.66px">Thread 4</text><text x="108.1" y="467.9" text-anchor="middle" fill="#b2b7bc" stroke="#b2b7bc" stroke-width="0.7" style="font:14px 'DejaVu Sans', 'Liberation Sans', sans-serif;letter-spacing:0.66px">Thread 5</text><text x="108.1" y="488.7" text-anchor="middle" fill="#b2b7bc" stroke="#b2b7bc" stroke-width="0.7" style="font:14px 'DejaVu Sans', 'Liberation Sans', sans-serif;letter-spacing:0.66px">Thread 6</text><text x="108.1" y="509.5" text-anchor="middle" fill="#b2b7bc" stroke="#b2b7bc" stroke-width="0.7" style="font:14px 'DejaVu Sans', 'Liberation Sans', sans-serif;letter-spacing:0.66px">Thread 7</text>
  <rect x="159" y="346.5" width="2" height="166.5" fill="#2e2e2e"/>

  <rect x="862.5" y="86" width="3.5" height="464.4" fill="#232323"/>
  <!-- scrollbars -->
  <rect x="866" y="86" width="23" height="469.6" fill="#3a3a3a"/>
  <rect x="885.5" y="86" width="3.5" height="469.6" fill="#434343"/>
  <rect x="867" y="99.5" width="18.5" height="456.1" fill="#393939" stroke="#454545" stroke-width="1.4"/>
  <rect x="867.5" y="84.5" width="18" height="13.5" fill="#3c3c3c" stroke="#474747" stroke-width="1"/>
  <polygon points="872,94.3 876.5,89.8 881,94.3" fill="#bdbdbd"/>
  <rect x="846.5" y="346.5" width="18" height="166" fill="#383838" stroke="#444" stroke-width="1"/>
  <rect x="847" y="347" width="17" height="13.5" fill="#3a3a3a" stroke="#474747" stroke-width="1"/>
  <rect x="847" y="497.5" width="17" height="14" fill="#3a3a3a" stroke="#474747" stroke-width="1"/>
  <polygon points="851,356.5 855.5,352 860,356.5" fill="#bdbdbd"/>
  <polygon points="851,502 855.5,506.5 860,502" fill="#bdbdbd"/>
  <rect x="889" y="84" width="6" height="471.6" fill="#2b2b2b"/>
</svg>
<div class="a" style="left:892px;top:245px;width:3px;height:20px;background:repeating-linear-gradient(#7c7c7c 0 1.5px,#333 1.5px 3px)"></div>
<div class="a" style="left:4px;top:245px;width:3px;height:20px;background:repeating-linear-gradient(#7c7c7c 0 1.5px,#333 1.5px 3px)"></div>
</body></html>
